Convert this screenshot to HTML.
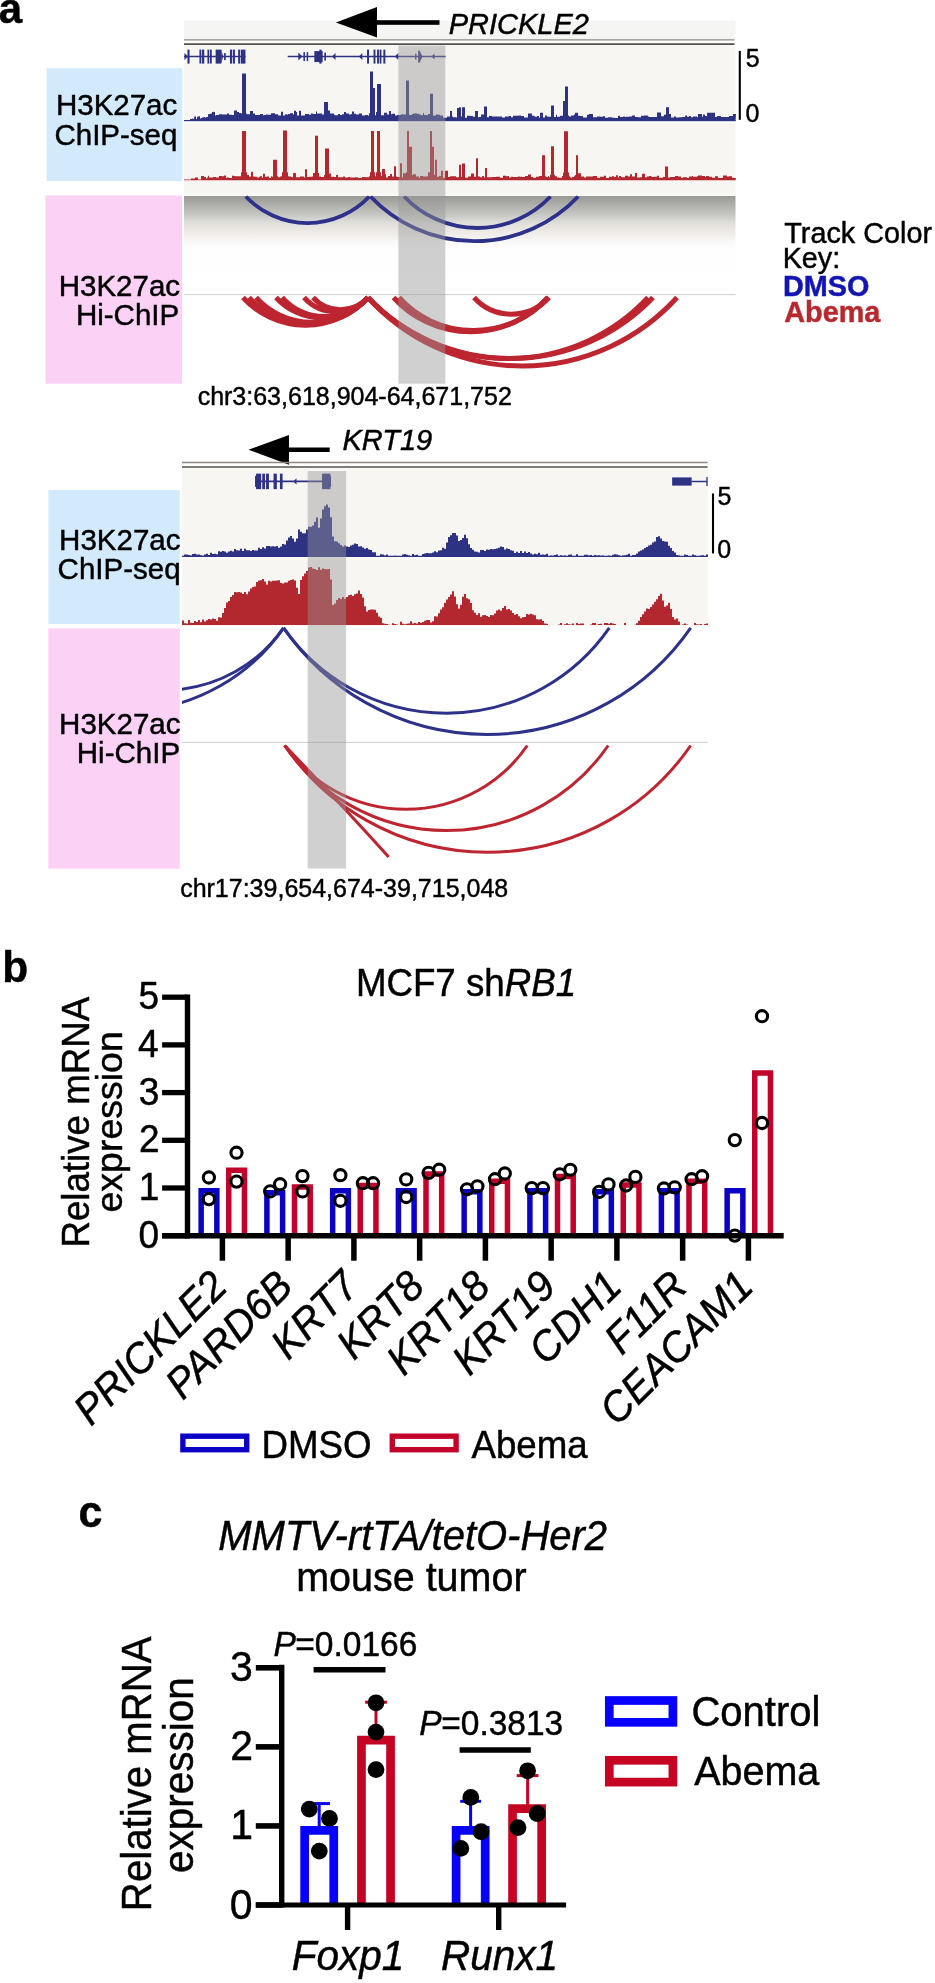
<!DOCTYPE html>
<html><head><meta charset="utf-8"><style>
html,body{margin:0;padding:0;background:#fff;}
svg{display:block;will-change:transform;}
svg text{font-family:"Liberation Sans", sans-serif;}
</style></head><body>
<svg width="935" height="1983" viewBox="0 0 935 1983" font-family="Liberation Sans, sans-serif">
<rect x="0" y="0" width="935" height="1983" fill="#fff"/>
<text transform="translate(-1.23 23.20) scale(1 1.000)" font-size="42.00" font-weight="bold" font-style="normal" fill="#000" stroke="#000" stroke-width="0.45">a</text>
<rect x="184.00" y="21.00" width="551.50" height="18.50" fill="#f5f5f4"/>
<polygon points="335.9,22.5 377,7.1 377,37.5" fill="#000"/>
<rect x="376.00" y="20.20" width="63.50" height="4.60" fill="#000"/>
<text transform="translate(448.71 33.60) scale(1 1.000)" font-size="29.00" font-weight="normal" font-style="italic" fill="#000" stroke="#000" stroke-width="0.45">PRICKLE2</text>
<rect x="184.00" y="45.20" width="551.50" height="150.30" fill="#f8f6f3"/>
<line x1="184.00" y1="39.80" x2="734.50" y2="39.80" stroke="#8d8782" stroke-width="1.30"/>
<line x1="184.00" y1="44.10" x2="734.50" y2="44.10" stroke="#55504c" stroke-width="1.70"/>
<line x1="184.00" y1="56.60" x2="245.50" y2="56.60" stroke="#2d3283" stroke-width="1.50"/>
<polygon points="188.0,56.6 184.5,53.1 184.5,60.1" fill="#2d3283"/>
<rect x="187.45" y="49.60" width="2.10" height="14.00" fill="#2d3283"/>
<rect x="199.45" y="49.60" width="1.90" height="14.00" fill="#2d3283"/>
<rect x="202.05" y="49.60" width="2.20" height="14.00" fill="#2d3283"/>
<rect x="207.45" y="49.60" width="1.70" height="14.00" fill="#2d3283"/>
<rect x="209.85" y="49.60" width="1.90" height="14.00" fill="#2d3283"/>
<rect x="229.95" y="49.60" width="2.20" height="14.00" fill="#2d3283"/>
<rect x="232.95" y="49.60" width="2.00" height="14.00" fill="#2d3283"/>
<rect x="238.15" y="49.60" width="2.00" height="14.00" fill="#2d3283"/>
<rect x="240.85" y="49.60" width="4.60" height="14.00" fill="#2d3283"/>
<rect x="215.65" y="49.60" width="5.80" height="14.00" fill="#2d3283"/>
<polygon points="221.3,50 223.2,56.6 221.3,63.2" fill="#2d3283"/>
<rect x="224.05" y="53.10" width="1.70" height="7.00" fill="#2d3283"/>
<line x1="287.70" y1="56.60" x2="445.60" y2="56.60" stroke="#2d3283" stroke-width="1.50"/>
<polygon points="302.3,56.6 298.3,52.6 298.3,60.6" fill="#2d3283"/>
<rect x="303.45" y="52.10" width="1.50" height="9.00" fill="#2d3283"/>
<rect x="306.65" y="52.10" width="1.50" height="9.00" fill="#2d3283"/>
<rect x="314.35" y="51.10" width="8.30" height="11.00" fill="#2d3283"/>
<rect x="319.35" y="49.60" width="2.30" height="14.00" fill="#2d3283"/>
<rect x="324.35" y="52.60" width="1.60" height="8.00" fill="#2d3283"/>
<polygon points="332.0,56.6 335.5,53.1 335.5,60.1" fill="#2d3283"/>
<polygon points="358.8,56.6 362.3,53.1 362.3,60.1" fill="#2d3283"/>
<rect x="367.05" y="49.60" width="2.00" height="14.00" fill="#2d3283"/>
<rect x="373.55" y="49.60" width="1.90" height="14.00" fill="#2d3283"/>
<rect x="377.05" y="49.60" width="1.90" height="14.00" fill="#2d3283"/>
<rect x="379.65" y="49.60" width="1.80" height="14.00" fill="#2d3283"/>
<rect x="383.35" y="49.60" width="2.00" height="14.00" fill="#2d3283"/>
<polygon points="394.8,56.6 398.3,53.1 398.3,60.1" fill="#2d3283"/>
<rect x="418.15" y="50.60" width="1.80" height="12.00" fill="#2d3283"/>
<polygon points="419.8,51 422.5,56.6 419.8,62.2" fill="#2d3283"/>
<rect x="415.15" y="53.60" width="1.30" height="6.00" fill="#2d3283"/>
<polygon points="431.5,56.6 434.5,53.6 434.5,59.6" fill="#2d3283"/>
<path d="M184.0 121.2L184.0 120.1L185.0 120.1L185.0 120.0L186.0 120.0L186.0 120.6L187.0 120.6L187.0 120.6L188.0 120.6L188.0 120.6L189.0 120.6L189.0 120.6L190.0 120.6L190.0 118.9L191.0 118.9L191.0 118.9L192.0 118.9L192.0 118.5L193.0 118.5L193.0 119.0L194.0 119.0L194.0 116.8L195.0 116.8L195.0 116.5L196.0 116.5L196.0 118.9L197.0 118.9L197.0 116.8L198.0 116.8L198.0 116.6L199.0 116.6L199.0 116.3L200.0 116.3L200.0 118.4L201.0 118.4L201.0 118.1L202.0 118.1L202.0 117.5L203.0 117.5L203.0 117.2L204.0 117.2L204.0 117.0L205.0 117.0L205.0 117.4L206.0 117.4L206.0 117.1L207.0 117.1L207.0 116.9L208.0 116.9L208.0 114.2L209.0 114.2L209.0 113.9L210.0 113.9L210.0 113.7L211.0 113.7L211.0 113.4L212.0 113.4L212.0 112.1L213.0 112.1L213.0 111.8L214.0 111.8L214.0 111.9L215.0 111.9L215.0 115.4L216.0 115.4L216.0 115.0L217.0 115.0L217.0 115.0L218.0 115.0L218.0 115.0L219.0 115.0L219.0 114.2L220.0 114.2L220.0 114.2L221.0 114.2L221.0 114.2L222.0 114.2L222.0 114.4L223.0 114.4L223.0 114.4L224.0 114.4L224.0 114.4L225.0 114.4L225.0 114.4L226.0 114.4L226.0 114.4L227.0 114.4L227.0 113.4L228.0 113.4L228.0 113.4L229.0 113.4L229.0 114.7L230.0 114.7L230.0 114.7L231.0 114.7L231.0 114.7L232.0 114.7L232.0 115.0L233.0 115.0L233.0 115.0L234.0 115.0L234.0 110.6L235.0 110.6L235.0 110.6L236.0 110.6L236.0 110.6L237.0 110.6L237.0 111.9L238.0 111.9L238.0 111.9L239.0 111.9L239.0 112.9L240.0 112.9L240.0 112.9L241.0 112.9L241.0 113.6L242.0 113.6L242.0 73.5L243.0 73.5L243.0 73.5L244.0 73.5L244.0 73.5L245.0 73.5L245.0 73.5L246.0 73.5L246.0 113.6L247.0 113.6L247.0 114.3L248.0 114.3L248.0 114.3L249.0 114.3L249.0 114.3L250.0 114.3L250.0 111.0L251.0 111.0L251.0 111.0L252.0 111.0L252.0 111.0L253.0 111.0L253.0 113.5L254.0 113.5L254.0 113.5L255.0 113.5L255.0 115.1L256.0 115.1L256.0 115.1L257.0 115.1L257.0 115.0L258.0 115.0L258.0 115.0L259.0 115.0L259.0 115.0L260.0 115.0L260.0 114.1L261.0 114.1L261.0 114.1L262.0 114.1L262.0 114.1L263.0 114.1L263.0 115.2L264.0 115.2L264.0 114.9L265.0 114.9L265.0 114.9L266.0 114.9L266.0 114.5L267.0 114.5L267.0 114.5L268.0 114.5L268.0 114.8L269.0 114.8L269.0 114.8L270.0 114.8L270.0 114.8L271.0 114.8L271.0 113.2L272.0 113.2L272.0 113.2L273.0 113.2L273.0 113.2L274.0 113.2L274.0 113.2L275.0 113.2L275.0 114.2L276.0 114.2L276.0 114.2L277.0 114.2L277.0 114.2L278.0 114.2L278.0 115.4L279.0 115.4L279.0 115.4L280.0 115.4L280.0 115.4L281.0 115.4L281.0 111.7L282.0 111.7L282.0 111.7L283.0 111.7L283.0 115.4L284.0 115.4L284.0 115.4L285.0 115.4L285.0 114.3L286.0 114.3L286.0 114.3L287.0 114.3L287.0 114.7L288.0 114.7L288.0 114.0L289.0 114.0L289.0 114.0L290.0 114.0L290.0 113.3L291.0 113.3L291.0 113.3L292.0 113.3L292.0 113.3L293.0 113.3L293.0 114.4L294.0 114.4L294.0 110.7L295.0 110.7L295.0 110.7L296.0 110.7L296.0 112.0L297.0 112.0L297.0 115.4L298.0 115.4L298.0 115.4L299.0 115.4L299.0 110.8L300.0 110.8L300.0 110.8L301.0 110.8L301.0 115.5L302.0 115.5L302.0 115.5L303.0 115.5L303.0 115.5L304.0 115.5L304.0 115.5L305.0 115.5L305.0 113.9L306.0 113.9L306.0 113.9L307.0 113.9L307.0 113.9L308.0 113.9L308.0 113.9L309.0 113.9L309.0 114.8L310.0 114.8L310.0 114.8L311.0 114.8L311.0 113.5L312.0 113.5L312.0 113.5L313.0 113.5L313.0 114.0L314.0 114.0L314.0 114.0L315.0 114.0L315.0 114.0L316.0 114.0L316.0 111.6L317.0 111.6L317.0 113.5L318.0 113.5L318.0 113.5L319.0 113.5L319.0 113.4L320.0 113.4L320.0 113.4L321.0 113.4L321.0 113.4L322.0 113.4L322.0 114.6L323.0 114.6L323.0 114.6L324.0 114.6L324.0 101.9L325.0 101.9L325.0 101.9L326.0 101.9L326.0 101.9L327.0 101.9L327.0 101.9L328.0 101.9L328.0 110.5L329.0 110.5L329.0 110.5L330.0 110.5L330.0 113.4L331.0 113.4L331.0 113.5L332.0 113.5L332.0 113.5L333.0 113.5L333.0 113.5L334.0 113.5L334.0 114.8L335.0 114.8L335.0 115.2L336.0 115.2L336.0 115.2L337.0 115.2L337.0 115.2L338.0 115.2L338.0 114.1L339.0 114.1L339.0 114.1L340.0 114.1L340.0 114.9L341.0 114.9L341.0 114.9L342.0 114.9L342.0 114.2L343.0 114.2L343.0 114.2L344.0 114.2L344.0 112.0L345.0 112.0L345.0 112.0L346.0 112.0L346.0 113.5L347.0 113.5L347.0 113.5L348.0 113.5L348.0 113.5L349.0 113.5L349.0 114.5L350.0 114.5L350.0 114.5L351.0 114.5L351.0 114.0L352.0 114.0L352.0 111.5L353.0 111.5L353.0 111.5L354.0 111.5L354.0 113.7L355.0 113.7L355.0 113.7L356.0 113.7L356.0 114.5L357.0 114.5L357.0 114.5L358.0 114.5L358.0 114.5L359.0 114.5L359.0 113.4L360.0 113.4L360.0 113.4L361.0 113.4L361.0 113.4L362.0 113.4L362.0 115.6L363.0 115.6L363.0 115.6L364.0 115.6L364.0 115.6L365.0 115.6L365.0 114.9L366.0 114.9L366.0 114.9L367.0 114.9L367.0 114.9L368.0 114.9L368.0 115.7L369.0 115.7L369.0 113.2L370.0 113.2L370.0 71.4L371.0 71.4L371.0 71.4L372.0 71.4L372.0 71.4L373.0 71.4L373.0 88.0L374.0 88.0L374.0 88.0L375.0 88.0L375.0 115.2L376.0 115.2L376.0 112.0L377.0 112.0L377.0 84.0L378.0 84.0L378.0 84.0L379.0 84.0L379.0 84.0L380.0 84.0L380.0 84.0L381.0 84.0L381.0 115.2L382.0 115.2L382.0 115.2L383.0 115.2L383.0 115.2L384.0 115.2L384.0 112.8L385.0 112.8L385.0 112.8L386.0 112.8L386.0 112.8L387.0 112.8L387.0 114.5L388.0 114.5L388.0 114.5L389.0 114.5L389.0 111.0L390.0 111.0L390.0 111.0L391.0 111.0L391.0 114.3L392.0 114.3L392.0 113.8L393.0 113.8L393.0 113.8L394.0 113.8L394.0 113.8L395.0 113.8L395.0 115.6L396.0 115.6L396.0 115.6L397.0 115.6L397.0 114.9L398.0 114.9L398.0 114.9L399.0 114.9L399.0 114.9L400.0 114.9L400.0 114.9L401.0 114.9L401.0 114.3L402.0 114.3L402.0 114.3L403.0 114.3L403.0 114.5L404.0 114.5L404.0 114.5L405.0 114.5L405.0 114.5L406.0 114.5L406.0 80.4L407.0 80.4L407.0 80.4L408.0 80.4L408.0 80.4L409.0 80.4L409.0 114.7L410.0 114.7L410.0 115.1L411.0 115.1L411.0 115.1L412.0 115.1L412.0 114.1L413.0 114.1L413.0 113.6L414.0 113.6L414.0 113.6L415.0 113.6L415.0 113.6L416.0 113.6L416.0 113.6L417.0 113.6L417.0 113.7L418.0 113.7L418.0 113.7L419.0 113.7L419.0 114.6L420.0 114.6L420.0 114.6L421.0 114.6L421.0 115.2L422.0 115.2L422.0 115.2L423.0 115.2L423.0 112.9L424.0 112.9L424.0 114.9L425.0 114.9L425.0 114.9L426.0 114.9L426.0 114.9L427.0 114.9L427.0 115.3L428.0 115.3L428.0 114.0L429.0 114.0L429.0 114.0L430.0 114.0L430.0 93.8L431.0 93.8L431.0 93.8L432.0 93.8L432.0 93.8L433.0 93.8L433.0 115.5L434.0 115.5L434.0 115.5L435.0 115.5L435.0 115.5L436.0 115.5L436.0 114.6L437.0 114.6L437.0 114.6L438.0 114.6L438.0 114.7L439.0 114.7L439.0 114.7L440.0 114.7L440.0 115.6L441.0 115.6L441.0 115.6L442.0 115.6L442.0 115.6L443.0 115.6L443.0 117.7L444.0 117.7L444.0 117.7L445.0 117.7L445.0 117.7L446.0 117.7L446.0 117.7L447.0 117.7L447.0 116.6L448.0 116.6L448.0 116.6L449.0 116.6L449.0 116.6L450.0 116.6L450.0 111.0L451.0 111.0L451.0 111.0L452.0 111.0L452.0 116.4L453.0 116.4L453.0 117.3L454.0 117.3L454.0 117.3L455.0 117.3L455.0 117.3L456.0 117.3L456.0 117.4L457.0 117.4L457.0 108.0L458.0 108.0L458.0 108.0L459.0 108.0L459.0 107.3L460.0 107.3L460.0 107.3L461.0 107.3L461.0 116.6L462.0 116.6L462.0 107.3L463.0 107.3L463.0 107.3L464.0 107.3L464.0 107.3L465.0 107.3L465.0 117.8L466.0 117.8L466.0 117.8L467.0 117.8L467.0 115.7L468.0 115.7L468.0 115.7L469.0 115.7L469.0 115.7L470.0 115.7L470.0 116.0L471.0 116.0L471.0 116.0L472.0 116.0L472.0 116.0L473.0 116.0L473.0 116.8L474.0 116.8L474.0 116.8L475.0 116.8L475.0 111.0L476.0 111.0L476.0 111.0L477.0 111.0L477.0 111.0L478.0 111.0L478.0 117.3L479.0 117.3L479.0 117.1L480.0 117.1L480.0 117.1L481.0 117.1L481.0 114.5L482.0 114.5L482.0 114.5L483.0 114.5L483.0 114.5L484.0 114.5L484.0 106.5L485.0 106.5L485.0 106.5L486.0 106.5L486.0 106.5L487.0 106.5L487.0 117.3L488.0 117.3L488.0 117.3L489.0 117.3L489.0 116.1L490.0 116.1L490.0 116.1L491.0 116.1L491.0 116.1L492.0 116.1L492.0 116.4L493.0 116.4L493.0 116.4L494.0 116.4L494.0 116.4L495.0 116.4L495.0 116.6L496.0 116.6L496.0 116.6L497.0 116.6L497.0 116.6L498.0 116.6L498.0 116.6L499.0 116.6L499.0 116.4L500.0 116.4L500.0 116.4L501.0 116.4L501.0 116.4L502.0 116.4L502.0 117.5L503.0 117.5L503.0 117.5L504.0 117.5L504.0 117.5L505.0 117.5L505.0 116.6L506.0 116.6L506.0 116.6L507.0 116.6L507.0 116.6L508.0 116.6L508.0 116.6L509.0 116.6L509.0 115.9L510.0 115.9L510.0 115.9L511.0 115.9L511.0 117.3L512.0 117.3L512.0 117.3L513.0 117.3L513.0 115.7L514.0 115.7L514.0 115.7L515.0 115.7L515.0 115.8L516.0 115.8L516.0 115.8L517.0 115.8L517.0 115.8L518.0 115.8L518.0 115.8L519.0 115.8L519.0 115.5L520.0 115.5L520.0 115.5L521.0 115.5L521.0 115.9L522.0 115.9L522.0 115.9L523.0 115.9L523.0 115.9L524.0 115.9L524.0 117.6L525.0 117.6L525.0 117.6L526.0 117.6L526.0 117.6L527.0 117.6L527.0 117.6L528.0 117.6L528.0 113.6L529.0 113.6L529.0 113.6L530.0 113.6L530.0 113.6L531.0 113.6L531.0 113.6L532.0 113.6L532.0 115.7L533.0 115.7L533.0 115.7L534.0 115.7L534.0 116.2L535.0 116.2L535.0 116.7L536.0 116.7L536.0 116.7L537.0 116.7L537.0 116.0L538.0 116.0L538.0 116.0L539.0 116.0L539.0 117.8L540.0 117.8L540.0 112.7L541.0 112.7L541.0 112.7L542.0 112.7L542.0 112.7L543.0 112.7L543.0 117.5L544.0 117.5L544.0 117.5L545.0 117.5L545.0 115.5L546.0 115.5L546.0 115.5L547.0 115.5L547.0 116.5L548.0 116.5L548.0 116.8L549.0 116.8L549.0 116.8L550.0 116.8L550.0 116.8L551.0 116.8L551.0 105.5L552.0 105.5L552.0 105.5L553.0 105.5L553.0 105.5L554.0 105.5L554.0 116.9L555.0 116.9L555.0 116.9L556.0 116.9L556.0 114.7L557.0 114.7L557.0 116.8L558.0 116.8L558.0 116.8L559.0 116.8L559.0 116.8L560.0 116.8L560.0 115.7L561.0 115.7L561.0 115.7L562.0 115.7L562.0 115.7L563.0 115.7L563.0 101.0L564.0 101.0L564.0 101.0L565.0 101.0L565.0 86.5L566.0 86.5L566.0 86.5L567.0 86.5L567.0 86.5L568.0 86.5L568.0 115.6L569.0 115.6L569.0 116.5L570.0 116.5L570.0 116.5L571.0 116.5L571.0 115.5L572.0 115.5L572.0 115.5L573.0 115.5L573.0 115.5L574.0 115.5L574.0 114.4L575.0 114.4L575.0 112.7L576.0 112.7L576.0 112.7L577.0 112.7L577.0 112.7L578.0 112.7L578.0 115.8L579.0 115.8L579.0 115.8L580.0 115.8L580.0 116.1L581.0 116.1L581.0 116.1L582.0 116.1L582.0 116.1L583.0 116.1L583.0 117.5L584.0 117.5L584.0 117.5L585.0 117.5L585.0 117.5L586.0 117.5L586.0 117.5L587.0 117.5L587.0 114.8L588.0 114.8L588.0 114.8L589.0 114.8L589.0 113.9L590.0 113.9L590.0 113.9L591.0 113.9L591.0 113.9L592.0 113.9L592.0 113.9L593.0 113.9L593.0 117.2L594.0 117.2L594.0 117.2L595.0 117.2L595.0 117.2L596.0 117.2L596.0 117.2L597.0 117.2L597.0 116.5L598.0 116.5L598.0 116.5L599.0 116.5L599.0 116.5L600.0 116.5L600.0 116.7L601.0 116.7L601.0 116.7L602.0 116.7L602.0 116.7L603.0 116.7L603.0 116.2L604.0 116.2L604.0 116.2L605.0 116.2L605.0 117.8L606.0 117.8L606.0 117.8L607.0 117.8L607.0 117.8L608.0 117.8L608.0 117.3L609.0 117.3L609.0 117.3L610.0 117.3L610.0 117.3L611.0 117.3L611.0 117.3L612.0 117.3L612.0 117.8L613.0 117.8L613.0 117.8L614.0 117.8L614.0 117.8L615.0 117.8L615.0 117.9L616.0 117.9L616.0 117.9L617.0 117.9L617.0 117.9L618.0 117.9L618.0 115.7L619.0 115.7L619.0 115.7L620.0 115.7L620.0 116.9L621.0 116.9L621.0 116.9L622.0 116.9L622.0 116.9L623.0 116.9L623.0 116.4L624.0 116.4L624.0 116.6L625.0 116.6L625.0 117.0L626.0 117.0L626.0 116.8L627.0 116.8L627.0 116.8L628.0 116.8L628.0 116.8L629.0 116.8L629.0 116.6L630.0 116.6L630.0 116.6L631.0 116.6L631.0 116.6L632.0 116.6L632.0 115.6L633.0 115.6L633.0 115.6L634.0 115.6L634.0 115.6L635.0 115.6L635.0 116.9L636.0 116.9L636.0 116.9L637.0 116.9L637.0 116.9L638.0 116.9L638.0 117.2L639.0 117.2L639.0 117.2L640.0 117.2L640.0 117.2L641.0 117.2L641.0 115.7L642.0 115.7L642.0 115.7L643.0 115.7L643.0 115.7L644.0 115.7L644.0 115.5L645.0 115.5L645.0 115.5L646.0 115.5L646.0 115.5L647.0 115.5L647.0 115.5L648.0 115.5L648.0 116.4L649.0 116.4L649.0 117.0L650.0 117.0L650.0 117.0L651.0 117.0L651.0 117.0L652.0 117.0L652.0 117.0L653.0 117.0L653.0 116.9L654.0 116.9L654.0 116.9L655.0 116.9L655.0 116.9L656.0 116.9L656.0 116.9L657.0 116.9L657.0 112.5L658.0 112.5L658.0 112.5L659.0 112.5L659.0 112.5L660.0 112.5L660.0 112.5L661.0 112.5L661.0 116.2L662.0 116.2L662.0 116.2L663.0 116.2L663.0 116.2L664.0 116.2L664.0 114.8L665.0 114.8L665.0 114.8L666.0 114.8L666.0 107.3L667.0 107.3L667.0 107.3L668.0 107.3L668.0 107.3L669.0 107.3L669.0 113.9L670.0 113.9L670.0 113.9L671.0 113.9L671.0 117.6L672.0 117.6L672.0 117.6L673.0 117.6L673.0 117.6L674.0 117.6L674.0 116.6L675.0 116.6L675.0 116.6L676.0 116.6L676.0 117.6L677.0 117.6L677.0 117.6L678.0 117.6L678.0 117.6L679.0 117.6L679.0 117.3L680.0 117.3L680.0 117.3L681.0 117.3L681.0 117.3L682.0 117.3L682.0 117.0L683.0 117.0L683.0 117.0L684.0 117.0L684.0 117.0L685.0 117.0L685.0 115.6L686.0 115.6L686.0 115.6L687.0 115.6L687.0 116.7L688.0 116.7L688.0 116.7L689.0 116.7L689.0 116.0L690.0 116.0L690.0 116.0L691.0 116.0L691.0 117.2L692.0 117.2L692.0 117.2L693.0 117.2L693.0 116.5L694.0 116.5L694.0 116.5L695.0 116.5L695.0 116.5L696.0 116.5L696.0 116.5L697.0 116.5L697.0 117.2L698.0 117.2L698.0 114.0L699.0 114.0L699.0 114.0L700.0 114.0L700.0 114.0L701.0 114.0L701.0 114.0L702.0 114.0L702.0 116.7L703.0 116.7L703.0 114.5L704.0 114.5L704.0 114.5L705.0 114.5L705.0 116.0L706.0 116.0L706.0 116.0L707.0 116.0L707.0 112.7L708.0 112.7L708.0 112.7L709.0 112.7L709.0 112.7L710.0 112.7L710.0 112.7L711.0 112.7L711.0 112.7L712.0 112.7L712.0 112.7L713.0 112.7L713.0 112.7L714.0 112.7L714.0 112.7L715.0 112.7L715.0 117.1L716.0 117.1L716.0 117.1L717.0 117.1L717.0 116.0L718.0 116.0L718.0 115.9L719.0 115.9L719.0 115.9L720.0 115.9L720.0 115.9L721.0 115.9L721.0 116.9L722.0 116.9L722.0 116.9L723.0 116.9L723.0 116.9L724.0 116.9L724.0 117.0L725.0 117.0L725.0 117.0L726.0 117.0L726.0 117.1L727.0 117.1L727.0 117.1L728.0 117.1L728.0 117.1L729.0 117.1L729.0 115.9L730.0 115.9L730.0 115.9L731.0 115.9L731.0 115.9L732.0 115.9L732.0 115.9L733.0 115.9L733.0 113.9L734.0 113.9L734.0 113.9L735.0 113.9L735.0 113.9L736.0 113.9L735.5 121.2Z" fill="#2d3283"/>
<line x1="184.00" y1="120.60" x2="735.50" y2="120.60" stroke="#2d3283" stroke-width="1.40"/>
<rect x="184.00" y="121.40" width="551.50" height="1.60" fill="#fdfdfd"/>
<path d="M184.0 180.2L184.0 179.6L185.0 179.6L185.0 179.5L186.0 179.5L186.0 179.5L187.0 179.5L187.0 179.5L188.0 179.5L188.0 179.6L189.0 179.6L189.0 179.6L190.0 179.6L190.0 179.6L191.0 179.6L191.0 178.4L192.0 178.4L192.0 178.4L193.0 178.4L193.0 178.4L194.0 178.4L194.0 178.4L195.0 178.4L195.0 177.5L196.0 177.5L196.0 177.5L197.0 177.5L197.0 177.5L198.0 177.5L198.0 179.6L199.0 179.6L199.0 179.6L200.0 179.6L200.0 179.5L201.0 179.5L201.0 176.0L202.0 176.0L202.0 176.0L203.0 176.0L203.0 176.0L204.0 176.0L204.0 177.0L205.0 177.0L205.0 176.9L206.0 176.9L206.0 178.4L207.0 178.4L207.0 177.5L208.0 177.5L208.0 175.8L209.0 175.8L209.0 177.5L210.0 177.5L210.0 177.4L211.0 177.4L211.0 177.6L212.0 177.6L212.0 177.4L213.0 177.4L213.0 177.0L214.0 177.0L214.0 177.0L215.0 177.0L215.0 177.0L216.0 177.0L216.0 177.5L217.0 177.5L217.0 177.5L218.0 177.5L218.0 177.5L219.0 177.5L219.0 176.0L220.0 176.0L220.0 176.0L221.0 176.0L221.0 176.0L222.0 176.0L222.0 176.3L223.0 176.3L223.0 176.3L224.0 176.3L224.0 175.5L225.0 175.5L225.0 175.5L226.0 175.5L226.0 178.0L227.0 178.0L227.0 177.6L228.0 177.6L228.0 177.6L229.0 177.6L229.0 177.9L230.0 177.9L230.0 177.9L231.0 177.9L231.0 177.9L232.0 177.9L232.0 175.8L233.0 175.8L233.0 175.8L234.0 175.8L234.0 176.0L235.0 176.0L235.0 176.2L236.0 176.2L236.0 176.2L237.0 176.2L237.0 176.2L238.0 176.2L238.0 176.2L239.0 176.2L239.0 176.3L240.0 176.3L240.0 176.3L241.0 176.3L241.0 172.3L242.0 172.3L242.0 131.0L243.0 131.0L243.0 131.0L244.0 131.0L244.0 131.0L245.0 131.0L245.0 131.0L246.0 131.0L246.0 172.3L247.0 172.3L247.0 174.9L248.0 174.9L248.0 174.9L249.0 174.9L249.0 176.6L250.0 176.6L250.0 176.6L251.0 176.6L251.0 171.7L252.0 171.7L252.0 171.7L253.0 171.7L253.0 176.4L254.0 176.4L254.0 176.5L255.0 176.5L255.0 176.8L256.0 176.8L256.0 176.8L257.0 176.8L257.0 177.5L258.0 177.5L258.0 177.5L259.0 177.5L259.0 176.8L260.0 176.8L260.0 176.3L261.0 176.3L261.0 176.3L262.0 176.3L262.0 177.8L263.0 177.8L263.0 173.8L264.0 173.8L264.0 173.8L265.0 173.8L265.0 176.7L266.0 176.7L266.0 176.7L267.0 176.7L267.0 176.6L268.0 176.6L268.0 176.6L269.0 176.6L269.0 178.0L270.0 178.0L270.0 178.0L271.0 178.0L271.0 176.2L272.0 176.2L272.0 176.8L273.0 176.8L273.0 159.7L274.0 159.7L274.0 159.7L275.0 159.7L275.0 159.7L276.0 159.7L276.0 159.7L277.0 159.7L277.0 176.3L278.0 176.3L278.0 177.3L279.0 177.3L279.0 177.3L280.0 177.3L280.0 176.5L281.0 176.5L281.0 176.2L282.0 176.2L282.0 172.2L283.0 172.2L283.0 130.5L284.0 130.5L284.0 130.5L285.0 130.5L285.0 130.5L286.0 130.5L286.0 130.5L287.0 130.5L287.0 172.2L288.0 172.2L288.0 176.2L289.0 176.2L289.0 176.5L290.0 176.5L290.0 176.5L291.0 176.5L291.0 177.1L292.0 177.1L292.0 177.3L293.0 177.3L293.0 173.0L294.0 173.0L294.0 173.0L295.0 173.0L295.0 173.0L296.0 173.0L296.0 177.3L297.0 177.3L297.0 177.3L298.0 177.3L298.0 177.3L299.0 177.3L299.0 177.3L300.0 177.3L300.0 176.5L301.0 176.5L301.0 176.5L302.0 176.5L302.0 176.5L303.0 176.5L303.0 176.5L304.0 176.5L304.0 177.6L305.0 177.6L305.0 169.3L306.0 169.3L306.0 169.3L307.0 169.3L307.0 177.0L308.0 177.0L308.0 177.0L309.0 177.0L309.0 176.7L310.0 176.7L310.0 176.7L311.0 176.7L311.0 176.7L312.0 176.7L312.0 176.6L313.0 176.6L313.0 173.1L314.0 173.1L314.0 173.1L315.0 173.1L315.0 135.8L316.0 135.8L316.0 135.8L317.0 135.8L317.0 135.8L318.0 135.8L318.0 173.1L319.0 173.1L319.0 176.6L320.0 176.6L320.0 176.6L321.0 176.6L321.0 176.9L322.0 176.9L322.0 176.9L323.0 176.9L323.0 176.9L324.0 176.9L324.0 175.1L325.0 175.1L325.0 148.6L326.0 148.6L326.0 148.6L327.0 148.6L327.0 148.6L328.0 148.6L328.0 148.6L329.0 148.6L329.0 173.6L330.0 173.6L330.0 173.6L331.0 173.6L331.0 176.8L332.0 176.8L332.0 176.8L333.0 176.8L333.0 176.8L334.0 176.8L334.0 176.9L335.0 176.9L335.0 176.9L336.0 176.9L336.0 175.0L337.0 175.0L337.0 175.0L338.0 175.0L338.0 177.3L339.0 177.3L339.0 177.3L340.0 177.3L340.0 177.3L341.0 177.3L341.0 177.3L342.0 177.3L342.0 177.3L343.0 177.3L343.0 176.6L344.0 176.6L344.0 176.6L345.0 176.6L345.0 177.5L346.0 177.5L346.0 177.5L347.0 177.5L347.0 177.5L348.0 177.5L348.0 176.9L349.0 176.9L349.0 176.9L350.0 176.9L350.0 177.4L351.0 177.4L351.0 177.4L352.0 177.4L352.0 177.4L353.0 177.4L353.0 177.4L354.0 177.4L354.0 177.4L355.0 177.4L355.0 177.3L356.0 177.3L356.0 177.3L357.0 177.3L357.0 177.3L358.0 177.3L358.0 177.9L359.0 177.9L359.0 177.9L360.0 177.9L360.0 177.9L361.0 177.9L361.0 177.9L362.0 177.9L362.0 177.1L363.0 177.1L363.0 177.1L364.0 177.1L364.0 177.1L365.0 177.1L365.0 177.3L366.0 177.3L366.0 177.3L367.0 177.3L367.0 177.2L368.0 177.2L368.0 177.2L369.0 177.2L369.0 176.3L370.0 176.3L370.0 172.3L371.0 172.3L371.0 131.0L372.0 131.0L372.0 131.0L373.0 131.0L373.0 131.0L374.0 131.0L374.0 172.3L375.0 172.3L375.0 176.2L376.0 176.2L376.0 172.3L377.0 172.3L377.0 131.0L378.0 131.0L378.0 131.0L379.0 131.0L379.0 131.0L380.0 131.0L380.0 172.3L381.0 172.3L381.0 176.0L382.0 176.0L382.0 169.0L383.0 169.0L383.0 169.0L384.0 169.0L384.0 169.0L385.0 169.0L385.0 174.1L386.0 174.1L386.0 177.6L387.0 177.6L387.0 177.6L388.0 177.6L388.0 176.0L389.0 176.0L389.0 176.0L390.0 176.0L390.0 173.9L391.0 173.9L391.0 173.9L392.0 173.9L392.0 176.5L393.0 176.5L393.0 176.5L394.0 176.5L394.0 166.3L395.0 166.3L395.0 166.3L396.0 166.3L396.0 176.4L397.0 176.4L397.0 176.9L398.0 176.9L398.0 176.9L399.0 176.9L399.0 176.9L400.0 176.9L400.0 163.3L401.0 163.3L401.0 163.3L402.0 163.3L402.0 177.2L403.0 177.2L403.0 173.3L404.0 173.3L404.0 173.3L405.0 173.3L405.0 173.3L406.0 173.3L406.0 172.3L407.0 172.3L407.0 131.0L408.0 131.0L408.0 131.0L409.0 131.0L409.0 146.8L410.0 146.8L410.0 146.8L411.0 146.8L411.0 146.8L412.0 146.8L412.0 174.9L413.0 174.9L413.0 174.3L414.0 174.3L414.0 174.3L415.0 174.3L415.0 174.3L416.0 174.3L416.0 176.6L417.0 176.6L417.0 176.6L418.0 176.6L418.0 176.2L419.0 176.2L419.0 177.8L420.0 177.8L420.0 176.0L421.0 176.0L421.0 176.0L422.0 176.0L422.0 176.0L423.0 176.0L423.0 176.4L424.0 176.4L424.0 176.4L425.0 176.4L425.0 176.4L426.0 176.4L426.0 176.4L427.0 176.4L427.0 176.3L428.0 176.3L428.0 172.3L429.0 172.3L429.0 172.3L430.0 172.3L430.0 131.0L431.0 131.0L431.0 131.0L432.0 131.0L432.0 146.8L433.0 146.8L433.0 146.8L434.0 146.8L434.0 174.9L435.0 174.9L435.0 159.7L436.0 159.7L436.0 159.7L437.0 159.7L437.0 176.7L438.0 176.7L438.0 176.7L439.0 176.7L439.0 175.9L440.0 175.9L440.0 175.9L441.0 175.9L441.0 170.8L442.0 170.8L442.0 170.8L443.0 170.8L443.0 177.7L444.0 177.7L444.0 177.7L445.0 177.7L445.0 170.8L446.0 170.8L446.0 170.8L447.0 170.8L447.0 170.8L448.0 170.8L448.0 177.0L449.0 177.0L449.0 177.0L450.0 177.0L450.0 176.3L451.0 176.3L451.0 176.3L452.0 176.3L452.0 176.3L453.0 176.3L453.0 176.3L454.0 176.3L454.0 176.3L455.0 176.3L455.0 176.3L456.0 176.3L456.0 177.2L457.0 177.2L457.0 177.2L458.0 177.2L458.0 177.2L459.0 177.2L459.0 164.7L460.0 164.7L460.0 164.7L461.0 164.7L461.0 176.8L462.0 176.8L462.0 163.6L463.0 163.6L463.0 163.6L464.0 163.6L464.0 163.6L465.0 163.6L465.0 177.5L466.0 177.5L466.0 177.7L467.0 177.7L467.0 177.7L468.0 177.7L468.0 176.4L469.0 176.4L469.0 176.4L470.0 176.4L470.0 176.4L471.0 176.4L471.0 173.6L472.0 173.6L472.0 173.6L473.0 173.6L473.0 173.6L474.0 173.6L474.0 176.7L475.0 176.7L475.0 176.7L476.0 176.7L476.0 158.2L477.0 158.2L477.0 158.2L478.0 158.2L478.0 176.6L479.0 176.6L479.0 176.6L480.0 176.6L480.0 177.3L481.0 177.3L481.0 177.3L482.0 177.3L482.0 175.9L483.0 175.9L483.0 175.9L484.0 175.9L484.0 177.6L485.0 177.6L485.0 168.0L486.0 168.0L486.0 168.0L487.0 168.0L487.0 177.2L488.0 177.2L488.0 177.2L489.0 177.2L489.0 177.2L490.0 177.2L490.0 177.3L491.0 177.3L491.0 177.3L492.0 177.3L492.0 177.1L493.0 177.1L493.0 177.1L494.0 177.1L494.0 177.1L495.0 177.1L495.0 177.1L496.0 177.1L496.0 176.8L497.0 176.8L497.0 176.8L498.0 176.8L498.0 176.8L499.0 176.8L499.0 176.8L500.0 176.8L500.0 177.8L501.0 177.8L501.0 177.8L502.0 177.8L502.0 177.8L503.0 177.8L503.0 175.8L504.0 175.8L504.0 175.8L505.0 175.8L505.0 175.8L506.0 175.8L506.0 176.3L507.0 176.3L507.0 176.3L508.0 176.3L508.0 176.1L509.0 176.1L509.0 177.4L510.0 177.4L510.0 177.4L511.0 177.4L511.0 176.7L512.0 176.7L512.0 176.7L513.0 176.7L513.0 177.0L514.0 177.0L514.0 177.0L515.0 177.0L515.0 177.0L516.0 177.0L516.0 177.0L517.0 177.0L517.0 177.0L518.0 177.0L518.0 176.4L519.0 176.4L519.0 176.4L520.0 176.4L520.0 176.7L521.0 176.7L521.0 176.7L522.0 176.7L522.0 176.9L523.0 176.9L523.0 176.9L524.0 176.9L524.0 176.9L525.0 176.9L525.0 176.1L526.0 176.1L526.0 176.1L527.0 176.1L527.0 176.1L528.0 176.1L528.0 174.5L529.0 174.5L529.0 174.5L530.0 174.5L530.0 174.5L531.0 174.5L531.0 177.1L532.0 177.1L532.0 177.1L533.0 177.1L533.0 177.7L534.0 177.7L534.0 177.7L535.0 177.7L535.0 177.7L536.0 177.7L536.0 176.7L537.0 176.7L537.0 176.7L538.0 176.7L538.0 176.7L539.0 176.7L539.0 175.9L540.0 175.9L540.0 175.9L541.0 175.9L541.0 175.9L542.0 175.9L542.0 155.3L543.0 155.3L543.0 155.3L544.0 155.3L544.0 155.3L545.0 155.3L545.0 176.2L546.0 176.2L546.0 176.9L547.0 176.9L547.0 176.9L548.0 176.9L548.0 175.9L549.0 175.9L549.0 177.2L550.0 177.2L550.0 174.8L551.0 174.8L551.0 146.2L552.0 146.2L552.0 146.2L553.0 146.2L553.0 146.2L554.0 146.2L554.0 174.8L555.0 174.8L555.0 176.3L556.0 176.3L556.0 176.3L557.0 176.3L557.0 177.4L558.0 177.4L558.0 177.4L559.0 177.4L559.0 177.8L560.0 177.8L560.0 177.8L561.0 177.8L561.0 177.8L562.0 177.8L562.0 175.9L563.0 175.9L563.0 172.4L564.0 172.4L564.0 131.3L565.0 131.3L565.0 131.3L566.0 131.3L566.0 131.3L567.0 131.3L567.0 131.3L568.0 131.3L568.0 172.4L569.0 172.4L569.0 176.3L570.0 176.3L570.0 177.2L571.0 177.2L571.0 177.8L572.0 177.8L572.0 177.0L573.0 177.0L573.0 177.0L574.0 177.0L574.0 176.2L575.0 176.2L575.0 175.0L576.0 175.0L576.0 155.3L577.0 155.3L577.0 155.3L578.0 155.3L578.0 173.3L579.0 173.3L579.0 173.3L580.0 173.3L580.0 173.3L581.0 173.3L581.0 176.5L582.0 176.5L582.0 176.5L583.0 176.5L583.0 176.5L584.0 176.5L584.0 177.5L585.0 177.5L585.0 177.5L586.0 177.5L586.0 176.4L587.0 176.4L587.0 176.4L588.0 176.4L588.0 176.4L589.0 176.4L589.0 176.5L590.0 176.5L590.0 176.5L591.0 176.5L591.0 176.5L592.0 176.5L592.0 176.5L593.0 176.5L593.0 175.9L594.0 175.9L594.0 175.9L595.0 175.9L595.0 175.9L596.0 175.9L596.0 175.9L597.0 175.9L597.0 177.8L598.0 177.8L598.0 177.8L599.0 177.8L599.0 177.7L600.0 177.7L600.0 176.7L601.0 176.7L601.0 176.8L602.0 176.8L602.0 176.8L603.0 176.8L603.0 176.8L604.0 176.8L604.0 175.8L605.0 175.8L605.0 175.8L606.0 175.8L606.0 178.0L607.0 178.0L607.0 178.0L608.0 178.0L608.0 178.0L609.0 178.0L609.0 176.7L610.0 176.7L610.0 176.7L611.0 176.7L611.0 176.7L612.0 176.7L612.0 176.2L613.0 176.2L613.0 176.2L614.0 176.2L614.0 177.0L615.0 177.0L615.0 177.0L616.0 177.0L616.0 175.3L617.0 175.3L617.0 175.3L618.0 175.3L618.0 177.4L619.0 177.4L619.0 176.0L620.0 176.0L620.0 176.0L621.0 176.0L621.0 177.1L622.0 177.1L622.0 177.3L623.0 177.3L623.0 177.3L624.0 177.3L624.0 177.3L625.0 177.3L625.0 175.8L626.0 175.8L626.0 175.8L627.0 175.8L627.0 175.8L628.0 175.8L628.0 176.6L629.0 176.6L629.0 176.6L630.0 176.6L630.0 174.2L631.0 174.2L631.0 174.2L632.0 174.2L632.0 176.5L633.0 176.5L633.0 176.5L634.0 176.5L634.0 176.5L635.0 176.5L635.0 173.1L636.0 173.1L636.0 173.1L637.0 173.1L637.0 177.6L638.0 177.6L638.0 177.6L639.0 177.6L639.0 177.6L640.0 177.6L640.0 177.3L641.0 177.3L641.0 177.3L642.0 177.3L642.0 173.8L643.0 173.8L643.0 173.8L644.0 173.8L644.0 173.8L645.0 173.8L645.0 177.3L646.0 177.3L646.0 177.3L647.0 177.3L647.0 176.5L648.0 176.5L648.0 176.5L649.0 176.5L649.0 176.1L650.0 176.1L650.0 176.1L651.0 176.1L651.0 176.5L652.0 176.5L652.0 176.9L653.0 176.9L653.0 176.9L654.0 176.9L654.0 176.8L655.0 176.8L655.0 176.8L656.0 176.8L656.0 176.8L657.0 176.8L657.0 175.8L658.0 175.8L658.0 175.8L659.0 175.8L659.0 177.7L660.0 177.7L660.0 177.7L661.0 177.7L661.0 177.7L662.0 177.7L662.0 177.7L663.0 177.7L663.0 177.0L664.0 177.0L664.0 177.0L665.0 177.0L665.0 166.5L666.0 166.5L666.0 166.5L667.0 166.5L667.0 166.5L668.0 166.5L668.0 177.6L669.0 177.6L669.0 177.6L670.0 177.6L670.0 177.0L671.0 177.0L671.0 177.0L672.0 177.0L672.0 176.9L673.0 176.9L673.0 176.9L674.0 176.9L674.0 176.9L675.0 176.9L675.0 176.0L676.0 176.0L676.0 176.0L677.0 176.0L677.0 176.0L678.0 176.0L678.0 176.6L679.0 176.6L679.0 176.6L680.0 176.6L680.0 176.6L681.0 176.6L681.0 177.8L682.0 177.8L682.0 177.8L683.0 177.8L683.0 177.3L684.0 177.3L684.0 177.3L685.0 177.3L685.0 177.3L686.0 177.3L686.0 177.3L687.0 177.3L687.0 177.9L688.0 177.9L688.0 177.9L689.0 177.9L689.0 176.4L690.0 176.4L690.0 176.4L691.0 176.4L691.0 176.4L692.0 176.4L692.0 176.1L693.0 176.1L693.0 176.8L694.0 176.8L694.0 176.8L695.0 176.8L695.0 176.8L696.0 176.8L696.0 176.8L697.0 176.8L697.0 176.3L698.0 176.3L698.0 175.5L699.0 175.5L699.0 175.5L700.0 175.5L700.0 175.5L701.0 175.5L701.0 175.5L702.0 175.5L702.0 176.1L703.0 176.1L703.0 176.1L704.0 176.1L704.0 176.1L705.0 176.1L705.0 177.1L706.0 177.1L706.0 176.1L707.0 176.1L707.0 176.1L708.0 176.1L708.0 176.1L709.0 176.1L709.0 176.7L710.0 176.7L710.0 176.7L711.0 176.7L711.0 176.7L712.0 176.7L712.0 177.7L713.0 177.7L713.0 177.7L714.0 177.7L714.0 177.7L715.0 177.7L715.0 176.3L716.0 176.3L716.0 176.3L717.0 176.3L717.0 176.3L718.0 176.3L718.0 177.9L719.0 177.9L719.0 177.9L720.0 177.9L720.0 177.9L721.0 177.9L721.0 177.9L722.0 177.9L722.0 177.7L723.0 177.7L723.0 175.5L724.0 175.5L724.0 175.5L725.0 175.5L725.0 175.5L726.0 175.5L726.0 175.5L727.0 175.5L727.0 176.6L728.0 176.6L728.0 176.6L729.0 176.6L729.0 176.2L730.0 176.2L730.0 176.2L731.0 176.2L731.0 176.2L732.0 176.2L732.0 177.8L733.0 177.8L733.0 177.8L734.0 177.8L734.0 177.9L735.0 177.9L735.0 177.9L736.0 177.9L735.5 180.2Z" fill="#b3272e"/>
<defs><linearGradient id="g1" gradientUnits="userSpaceOnUse" x1="0" y1="196" x2="0" y2="294"><stop offset="0.0000" stop-color="#999a95"/><stop offset="0.0612" stop-color="#a7a8a3"/><stop offset="0.1224" stop-color="#b6b7b2"/><stop offset="0.2010" stop-color="#c9cac5"/><stop offset="0.2653" stop-color="#dcddd8"/><stop offset="0.3102" stop-color="#e6e3df"/><stop offset="0.3755" stop-color="#eeebe8"/><stop offset="0.4276" stop-color="#f5f3f0"/><stop offset="0.4755" stop-color="#fafafa"/><stop offset="0.5510" stop-color="#fefefe"/><stop offset="1.0000" stop-color="#ffffff"/></linearGradient><clipPath id="c1"><rect x="184" y="195.5" width="551.5" height="188.5"/></clipPath><clipPath id="c2"><rect x="182" y="626" width="526" height="243"/></clipPath></defs>
<rect x="184.00" y="195.50" width="551.50" height="99.00" fill="url(#g1)"/>
<rect x="184.00" y="194.30" width="551.50" height="1.60" fill="#fdfdfb"/>
<line x1="184.00" y1="294.60" x2="735.50" y2="294.60" stroke="#cfcfcf" stroke-width="1.00"/>
<path d="M245.80 196.50A85.08 85.08 0 0 0 369.30 196.50" fill="none" stroke="#2d318a" stroke-width="3.8" clip-path="url(#c1)"/>
<path d="M370.50 196.50A143.08 143.08 0 0 0 578.20 196.50" fill="none" stroke="#2d318a" stroke-width="3.8" clip-path="url(#c1)"/>
<path d="M404.10 196.50A100.85 100.85 0 0 0 550.50 196.50" fill="none" stroke="#2d318a" stroke-width="3.8" clip-path="url(#c1)"/>
<path d="M243.00 297.50A84.26 84.26 0 0 0 368.00 297.50" fill="none" stroke="#bd2530" stroke-width="5.0" clip-path="url(#c1)"/>
<path d="M249.00 297.50A80.21 80.21 0 0 0 368.00 297.50" fill="none" stroke="#bd2530" stroke-width="5.0" clip-path="url(#c1)"/>
<path d="M256.00 297.50A75.50 75.50 0 0 0 368.00 297.50" fill="none" stroke="#bd2530" stroke-width="5.0" clip-path="url(#c1)"/>
<path d="M276.00 297.50A62.01 62.01 0 0 0 368.00 297.50" fill="none" stroke="#bd2530" stroke-width="5.0" clip-path="url(#c1)"/>
<path d="M282.00 297.50A57.97 57.97 0 0 0 368.00 297.50" fill="none" stroke="#bd2530" stroke-width="5.0" clip-path="url(#c1)"/>
<path d="M304.00 297.50A43.14 43.14 0 0 0 368.00 297.50" fill="none" stroke="#bd2530" stroke-width="5.0" clip-path="url(#c1)"/>
<path d="M313.00 297.50A37.07 37.07 0 0 0 368.00 297.50" fill="none" stroke="#bd2530" stroke-width="5.0" clip-path="url(#c1)"/>
<path d="M368.00 297.50A191.16 191.16 0 0 0 648.00 297.50" fill="none" stroke="#bd2530" stroke-width="5.0" clip-path="url(#c1)"/>
<path d="M368.00 297.50A196.94 196.94 0 0 0 653.00 297.50" fill="none" stroke="#bd2530" stroke-width="5.0" clip-path="url(#c1)"/>
<path d="M368.00 297.50A208.49 208.49 0 0 0 677.00 297.50" fill="none" stroke="#bd2530" stroke-width="5.0" clip-path="url(#c1)"/>
<path d="M393.50 297.50A104.14 104.14 0 0 0 548.00 297.50" fill="none" stroke="#bd2530" stroke-width="5.0" clip-path="url(#c1)"/>
<path d="M399.00 297.50A100.44 100.44 0 0 0 548.00 297.50" fill="none" stroke="#bd2530" stroke-width="5.0" clip-path="url(#c1)"/>
<path d="M474.00 297.50A50.55 50.55 0 0 0 549.00 297.50" fill="none" stroke="#bd2530" stroke-width="5.0" clip-path="url(#c1)"/>
<rect x="398.40" y="45.50" width="46.90" height="338.20" fill="rgba(150,150,150,0.45)"/>
<rect x="46.70" y="68.20" width="135.60" height="112.80" fill="#d2eafb"/>
<rect x="45.50" y="195.50" width="136.50" height="188.20" fill="#fcd1f6"/>
<text transform="translate(55.92 115.30) scale(1 1.000)" font-size="29.50" font-weight="normal" font-style="normal" fill="#000" stroke="#000" stroke-width="0.45">H3K27ac</text>
<text transform="translate(54.42 145.30) scale(1 1.000)" font-size="29.50" font-weight="normal" font-style="normal" fill="#000" stroke="#000" stroke-width="0.45">ChIP-seq</text>
<text transform="translate(58.72 295.60) scale(1 1.000)" font-size="29.50" font-weight="normal" font-style="normal" fill="#000" stroke="#000" stroke-width="0.45">H3K27ac</text>
<text transform="translate(75.89 325.00) scale(1 1.000)" font-size="29.50" font-weight="normal" font-style="normal" fill="#000" stroke="#000" stroke-width="0.45">Hi-ChIP</text>
<line x1="739.80" y1="50.90" x2="739.80" y2="119.80" stroke="#000" stroke-width="2.10"/>
<text transform="translate(745.70 66.60) scale(1 1.000)" font-size="25.00" font-weight="normal" font-style="normal" fill="#000" stroke="#000" stroke-width="0.45">5</text>
<text transform="translate(745.52 121.60) scale(1 1.000)" font-size="25.00" font-weight="normal" font-style="normal" fill="#000" stroke="#000" stroke-width="0.45">0</text>
<text transform="translate(784.35 242.60) scale(1 1.000)" font-size="28.80" font-weight="normal" font-style="normal" fill="#000" stroke="#000" stroke-width="0.45">Track Color</text>
<text transform="translate(782.64 268.20) scale(1 1.000)" font-size="28.80" font-weight="normal" font-style="normal" fill="#000" stroke="#000" stroke-width="0.45">Key:</text>
<text transform="translate(783.07 295.60) scale(1 1.000)" font-size="28.80" font-weight="bold" font-style="normal" fill="#1315b3" stroke="#1315b3" stroke-width="0.45">DMSO</text>
<text transform="translate(784.28 321.50) scale(1 1.000)" font-size="28.80" font-weight="bold" font-style="normal" fill="#b8292f" stroke="#b8292f" stroke-width="0.45">Abema</text>
<text transform="translate(197.64 405.40) scale(1 1.000)" font-size="25.00" font-weight="normal" font-style="normal" fill="#000" stroke="#000" stroke-width="0.45">chr3:63,618,904-64,671,752</text>
<polygon points="248.5,449.7 289,435 289,464.8" fill="#000"/>
<rect x="288.00" y="447.50" width="41.70" height="4.50" fill="#000"/>
<text transform="translate(342.41 450.30) scale(1 1.000)" font-size="29.00" font-weight="normal" font-style="italic" fill="#000" stroke="#000" stroke-width="0.45">KRT19</text>
<rect x="182.00" y="468.00" width="526.00" height="158.00" fill="#f8f6f3"/>
<line x1="182.00" y1="462.50" x2="707.60" y2="462.50" stroke="#8d8782" stroke-width="1.30"/>
<line x1="182.00" y1="467.00" x2="707.60" y2="467.00" stroke="#55504c" stroke-width="1.70"/>
<line x1="255.00" y1="481.40" x2="330.30" y2="481.40" stroke="#2d3283" stroke-width="1.80"/>
<rect x="256.05" y="473.65" width="5.10" height="15.50" fill="#2d3283"/>
<rect x="255.05" y="475.90" width="2.10" height="11.00" fill="#2d3283"/>
<rect x="262.25" y="473.65" width="2.80" height="15.50" fill="#2d3283"/>
<rect x="266.05" y="473.65" width="2.90" height="15.50" fill="#2d3283"/>
<rect x="273.55" y="473.65" width="3.30" height="15.50" fill="#2d3283"/>
<rect x="279.95" y="473.65" width="2.60" height="15.50" fill="#2d3283"/>
<polygon points="293.3,481.4 296.5,478.2 296.5,484.6" fill="#2d3283"/>
<rect x="322.05" y="473.65" width="8.30" height="15.50" fill="#2d3283"/>
<rect x="329.35" y="475.90" width="1.70" height="11.00" fill="#2d3283"/>
<rect x="672.15" y="477.40" width="19.50" height="8.20" fill="#2d3283"/>
<line x1="691.50" y1="481.50" x2="707.20" y2="481.50" stroke="#2d3283" stroke-width="1.50"/>
<line x1="707.00" y1="477.00" x2="707.00" y2="486.00" stroke="#2d3283" stroke-width="1.30"/>
<path d="M182.0 556.8L182.0 555.9L184.0 555.9L184.0 554.4L186.0 554.4L186.0 554.5L188.0 554.5L188.0 554.9L190.0 554.9L190.0 555.6L192.0 555.6L192.0 553.9L194.0 553.9L194.0 553.8L196.0 553.8L196.0 554.6L198.0 554.6L198.0 554.5L200.0 554.5L200.0 555.2L202.0 555.2L202.0 555.7L204.0 555.7L204.0 554.5L206.0 554.5L206.0 553.7L208.0 553.7L208.0 554.9L210.0 554.9L210.0 552.7L212.0 552.7L212.0 554.0L214.0 554.0L214.0 553.8L216.0 553.8L216.0 554.2L218.0 554.2L218.0 551.3L220.0 551.3L220.0 551.8L222.0 551.8L222.0 551.1L224.0 551.1L224.0 551.5L226.0 551.5L226.0 552.8L228.0 552.8L228.0 551.6L230.0 551.6L230.0 550.8L232.0 550.8L232.0 551.6L234.0 551.6L234.0 548.9L236.0 548.9L236.0 550.2L238.0 550.2L238.0 550.5L240.0 550.5L240.0 548.8L242.0 548.8L242.0 550.9L244.0 550.9L244.0 548.8L246.0 548.8L246.0 550.3L248.0 550.3L248.0 550.2L250.0 550.2L250.0 550.9L252.0 550.9L252.0 550.1L254.0 550.1L254.0 550.5L256.0 550.5L256.0 550.5L258.0 550.5L258.0 547.8L260.0 547.8L260.0 549.1L262.0 549.1L262.0 547.2L264.0 547.2L264.0 548.4L266.0 548.4L266.0 546.0L268.0 546.0L268.0 546.1L270.0 546.1L270.0 546.4L272.0 546.4L272.0 546.2L274.0 546.2L274.0 546.6L276.0 546.6L276.0 546.1L278.0 546.1L278.0 547.7L280.0 547.7L280.0 546.4L282.0 546.4L282.0 544.1L284.0 544.1L284.0 544.5L286.0 544.5L286.0 540.4L288.0 540.4L288.0 537.6L290.0 537.6L290.0 536.1L292.0 536.1L292.0 538.6L294.0 538.6L294.0 541.7L296.0 541.7L296.0 538.4L298.0 538.4L298.0 529.6L300.0 529.6L300.0 531.8L302.0 531.8L302.0 533.3L304.0 533.3L304.0 533.3L306.0 533.3L306.0 529.6L308.0 529.6L308.0 526.8L310.0 526.8L310.0 526.8L312.0 526.8L312.0 525.5L314.0 525.5L314.0 521.8L316.0 521.8L316.0 517.6L318.0 517.6L318.0 527.8L320.0 527.8L320.0 518.4L322.0 518.4L322.0 509.4L324.0 509.4L324.0 506.3L326.0 506.3L326.0 504.6L328.0 504.6L328.0 507.4L330.0 507.4L330.0 517.3L332.0 517.3L332.0 536.6L334.0 536.6L334.0 541.2L336.0 541.2L336.0 541.5L338.0 541.5L338.0 543.3L340.0 543.3L340.0 545.1L342.0 545.1L342.0 546.4L344.0 546.4L344.0 545.5L346.0 545.5L346.0 546.5L348.0 546.5L348.0 547.0L350.0 547.0L350.0 545.5L352.0 545.5L352.0 544.8L354.0 544.8L354.0 543.5L356.0 543.5L356.0 543.9L358.0 543.9L358.0 546.6L360.0 546.6L360.0 546.2L362.0 546.2L362.0 547.5L364.0 547.5L364.0 548.8L366.0 548.8L366.0 548.1L368.0 548.1L368.0 549.4L370.0 549.4L370.0 550.1L372.0 550.1L372.0 552.3L374.0 552.3L374.0 552.3L376.0 552.3L376.0 555.9L378.0 555.9L378.0 556.2L380.0 556.2L380.0 554.3L382.0 554.3L382.0 554.4L384.0 554.4L384.0 555.4L386.0 555.4L386.0 554.5L388.0 554.5L388.0 556.8L390.0 556.8L390.0 556.3L392.0 556.3L392.0 556.2L394.0 556.2L394.0 555.8L396.0 555.8L396.0 556.5L398.0 556.5L398.0 556.7L400.0 556.7L400.0 556.0L402.0 556.0L402.0 554.4L404.0 554.4L404.0 554.1L406.0 554.1L406.0 554.8L408.0 554.8L408.0 555.5L410.0 555.5L410.0 556.1L412.0 556.1L412.0 554.1L414.0 554.1L414.0 555.3L416.0 555.3L416.0 554.7L418.0 554.7L418.0 556.6L420.0 556.6L420.0 556.1L422.0 556.1L422.0 553.9L424.0 553.9L424.0 553.6L426.0 553.6L426.0 552.9L428.0 552.9L428.0 553.3L430.0 553.3L430.0 553.3L432.0 553.3L432.0 552.5L434.0 552.5L434.0 551.3L436.0 551.3L436.0 552.2L438.0 552.2L438.0 550.5L440.0 550.5L440.0 550.2L442.0 550.2L442.0 547.7L444.0 547.7L444.0 548.8L446.0 548.8L446.0 542.4L448.0 542.4L448.0 537.1L450.0 537.1L450.0 535.2L452.0 535.2L452.0 533.1L454.0 533.1L454.0 533.0L456.0 533.0L456.0 535.4L458.0 535.4L458.0 540.9L460.0 540.9L460.0 540.1L462.0 540.1L462.0 538.0L464.0 538.0L464.0 534.7L466.0 534.7L466.0 538.3L468.0 538.3L468.0 544.2L470.0 544.2L470.0 548.0L472.0 548.0L472.0 549.8L474.0 549.8L474.0 551.5L476.0 551.5L476.0 551.8L478.0 551.8L478.0 552.6L480.0 552.6L480.0 550.1L482.0 550.1L482.0 550.1L484.0 550.1L484.0 551.1L486.0 551.1L486.0 549.5L488.0 549.5L488.0 549.7L490.0 549.7L490.0 548.9L492.0 548.9L492.0 549.3L494.0 549.3L494.0 549.1L496.0 549.1L496.0 548.6L498.0 548.6L498.0 547.7L500.0 547.7L500.0 546.4L502.0 546.4L502.0 547.0L504.0 547.0L504.0 549.4L506.0 549.4L506.0 548.5L508.0 548.5L508.0 549.1L510.0 549.1L510.0 550.3L512.0 550.3L512.0 550.7L514.0 550.7L514.0 552.9L516.0 552.9L516.0 551.8L518.0 551.8L518.0 553.0L520.0 553.0L520.0 551.1L522.0 551.1L522.0 552.9L524.0 552.9L524.0 551.5L526.0 551.5L526.0 553.1L528.0 553.1L528.0 552.1L530.0 552.1L530.0 553.4L532.0 553.4L532.0 554.4L534.0 554.4L534.0 553.7L536.0 553.7L536.0 554.2L538.0 554.2L538.0 552.8L540.0 552.8L540.0 554.8L542.0 554.8L542.0 554.5L544.0 554.5L544.0 554.7L546.0 554.7L546.0 553.8L548.0 553.8L548.0 556.5L550.0 556.5L550.0 555.4L552.0 555.4L552.0 555.8L554.0 555.8L554.0 555.1L556.0 555.1L556.0 554.5L558.0 554.5L558.0 556.3L560.0 556.3L560.0 555.2L562.0 555.2L562.0 555.7L564.0 555.7L564.0 555.6L566.0 555.6L566.0 556.8L568.0 556.8L568.0 554.8L570.0 554.8L570.0 554.4L572.0 554.4L572.0 556.1L574.0 556.1L574.0 556.2L576.0 556.2L576.0 554.2L578.0 554.2L578.0 556.7L580.0 556.7L580.0 556.8L582.0 556.8L582.0 556.8L584.0 556.8L584.0 554.7L586.0 554.7L586.0 554.8L588.0 554.8L588.0 555.6L590.0 555.6L590.0 555.1L592.0 555.1L592.0 556.8L594.0 556.8L594.0 555.0L596.0 555.0L596.0 555.6L598.0 555.6L598.0 555.3L600.0 555.3L600.0 555.7L602.0 555.7L602.0 555.6L604.0 555.6L604.0 556.1L606.0 556.1L606.0 556.6L608.0 556.6L608.0 555.5L610.0 555.5L610.0 556.0L612.0 556.0L612.0 554.7L614.0 554.7L614.0 554.3L616.0 554.3L616.0 554.6L618.0 554.6L618.0 555.3L620.0 555.3L620.0 555.9L622.0 555.9L622.0 555.5L624.0 555.5L624.0 555.2L626.0 555.2L626.0 554.7L628.0 554.7L628.0 553.8L630.0 553.8L630.0 556.2L632.0 556.2L632.0 555.1L634.0 555.1L634.0 555.0L636.0 555.0L636.0 553.4L638.0 553.4L638.0 551.5L640.0 551.5L640.0 550.4L642.0 550.4L642.0 549.5L644.0 549.5L644.0 548.0L646.0 548.0L646.0 547.1L648.0 547.1L648.0 545.4L650.0 545.4L650.0 544.8L652.0 544.8L652.0 542.5L654.0 542.5L654.0 541.4L656.0 541.4L656.0 537.1L658.0 537.1L658.0 536.2L660.0 536.2L660.0 538.5L662.0 538.5L662.0 540.9L664.0 540.9L664.0 541.6L666.0 541.6L666.0 541.8L668.0 541.8L668.0 545.8L670.0 545.8L670.0 548.1L672.0 548.1L672.0 551.1L674.0 551.1L674.0 552.6L676.0 552.6L676.0 555.0L678.0 555.0L678.0 555.6L680.0 555.6L680.0 556.8L682.0 556.8L682.0 556.4L684.0 556.4L684.0 554.6L686.0 554.6L686.0 555.1L688.0 555.1L688.0 555.9L690.0 555.9L690.0 556.8L692.0 556.8L692.0 554.5L694.0 554.5L694.0 555.2L696.0 555.2L696.0 556.6L698.0 556.6L698.0 556.3L700.0 556.3L700.0 555.4L702.0 555.4L702.0 555.3L704.0 555.3L704.0 556.5L706.0 556.5L706.0 554.5L708.0 554.5L708.0 556.8Z" fill="#2d3283"/>
<line x1="182.00" y1="556.30" x2="708.00" y2="556.30" stroke="#2d3283" stroke-width="1.20"/>
<rect x="182.00" y="557.20" width="526.00" height="2.00" fill="#fdfdfd"/>
<path d="M182.0 625.0L182.0 620.4L184.0 620.4L184.0 623.2L186.0 623.2L186.0 623.5L188.0 623.5L188.0 620.1L190.0 620.1L190.0 622.8L192.0 622.8L192.0 623.0L194.0 623.0L194.0 621.1L196.0 621.1L196.0 622.1L198.0 622.1L198.0 620.1L200.0 620.1L200.0 622.3L202.0 622.3L202.0 619.6L204.0 619.6L204.0 621.5L206.0 621.5L206.0 620.3L208.0 620.3L208.0 618.9L210.0 618.9L210.0 619.5L212.0 619.5L212.0 618.4L214.0 618.4L214.0 618.9L216.0 618.9L216.0 620.7L218.0 620.7L218.0 617.2L220.0 617.2L220.0 617.5L222.0 617.5L222.0 613.0L224.0 613.0L224.0 607.9L226.0 607.9L226.0 602.6L228.0 602.6L228.0 600.9L230.0 600.9L230.0 597.1L232.0 597.1L232.0 595.1L234.0 595.1L234.0 591.9L236.0 591.9L236.0 592.2L238.0 592.2L238.0 592.0L240.0 592.0L240.0 592.6L242.0 592.6L242.0 594.0L244.0 594.0L244.0 591.9L246.0 591.9L246.0 594.3L248.0 594.3L248.0 591.5L250.0 591.5L250.0 588.4L252.0 588.4L252.0 586.9L254.0 586.9L254.0 586.4L256.0 586.4L256.0 582.1L258.0 582.1L258.0 580.6L260.0 580.6L260.0 580.3L262.0 580.3L262.0 579.0L264.0 579.0L264.0 581.5L266.0 581.5L266.0 584.5L268.0 584.5L268.0 580.8L270.0 580.8L270.0 581.5L272.0 581.5L272.0 580.8L274.0 580.8L274.0 580.7L276.0 580.7L276.0 580.5L278.0 580.5L278.0 580.3L280.0 580.3L280.0 583.0L282.0 583.0L282.0 583.5L284.0 583.5L284.0 582.5L286.0 582.5L286.0 582.6L288.0 582.6L288.0 580.7L290.0 580.7L290.0 580.1L292.0 580.1L292.0 579.6L294.0 579.6L294.0 580.5L296.0 580.5L296.0 587.7L298.0 587.7L298.0 594.1L300.0 594.1L300.0 580.0L302.0 580.0L302.0 576.3L304.0 576.3L304.0 573.5L306.0 573.5L306.0 571.1L308.0 571.1L308.0 567.4L310.0 567.4L310.0 567.1L312.0 567.1L312.0 568.6L314.0 568.6L314.0 568.9L316.0 568.9L316.0 570.0L318.0 570.0L318.0 567.3L320.0 567.3L320.0 569.7L322.0 569.7L322.0 568.4L324.0 568.4L324.0 569.1L326.0 569.1L326.0 569.2L328.0 569.2L328.0 569.1L330.0 569.1L330.0 579.6L332.0 579.6L332.0 604.9L334.0 604.9L334.0 603.4L336.0 603.4L336.0 600.0L338.0 600.0L338.0 598.0L340.0 598.0L340.0 599.0L342.0 599.0L342.0 596.9L344.0 596.9L344.0 598.7L346.0 598.7L346.0 597.1L348.0 597.1L348.0 595.3L350.0 595.3L350.0 594.7L352.0 594.7L352.0 595.9L354.0 595.9L354.0 594.2L356.0 594.2L356.0 593.5L358.0 593.5L358.0 590.5L360.0 590.5L360.0 594.1L362.0 594.1L362.0 597.6L364.0 597.6L364.0 606.2L366.0 606.2L366.0 611.6L368.0 611.6L368.0 609.9L370.0 609.9L370.0 609.4L372.0 609.4L372.0 609.6L374.0 609.6L374.0 609.8L376.0 609.8L376.0 612.7L378.0 612.7L378.0 616.4L380.0 616.4L380.0 617.8L382.0 617.8L382.0 623.2L384.0 623.2L384.0 623.8L386.0 623.8L386.0 623.9L388.0 623.9L388.0 624.8L390.0 624.8L390.0 625.0L392.0 625.0L392.0 623.3L394.0 623.3L394.0 624.0L396.0 624.0L396.0 624.4L398.0 624.4L398.0 625.0L400.0 625.0L400.0 621.7L402.0 621.7L402.0 623.7L404.0 623.7L404.0 624.3L406.0 624.3L406.0 623.8L408.0 623.8L408.0 623.5L410.0 623.5L410.0 621.3L412.0 621.3L412.0 623.5L414.0 623.5L414.0 623.0L416.0 623.0L416.0 623.4L418.0 623.4L418.0 622.0L420.0 622.0L420.0 622.8L422.0 622.8L422.0 622.1L424.0 622.1L424.0 620.7L426.0 620.7L426.0 619.9L428.0 619.9L428.0 620.0L430.0 620.0L430.0 622.6L432.0 622.6L432.0 621.3L434.0 621.3L434.0 616.3L436.0 616.3L436.0 616.4L438.0 616.4L438.0 613.2L440.0 613.2L440.0 609.5L442.0 609.5L442.0 607.2L444.0 607.2L444.0 602.8L446.0 602.8L446.0 599.6L448.0 599.6L448.0 597.1L450.0 597.1L450.0 594.6L452.0 594.6L452.0 591.3L454.0 591.3L454.0 596.6L456.0 596.6L456.0 604.3L458.0 604.3L458.0 608.6L460.0 608.6L460.0 604.8L462.0 604.8L462.0 596.7L464.0 596.7L464.0 594.0L466.0 594.0L466.0 598.3L468.0 598.3L468.0 599.2L470.0 599.2L470.0 603.0L472.0 603.0L472.0 610.3L474.0 610.3L474.0 612.8L476.0 612.8L476.0 615.1L478.0 615.1L478.0 613.3L480.0 613.3L480.0 616.7L482.0 616.7L482.0 615.3L484.0 615.3L484.0 614.9L486.0 614.9L486.0 615.9L488.0 615.9L488.0 617.0L490.0 617.0L490.0 615.0L492.0 615.0L492.0 615.3L494.0 615.3L494.0 613.6L496.0 613.6L496.0 610.6L498.0 610.6L498.0 609.4L500.0 609.4L500.0 610.7L502.0 610.7L502.0 608.0L504.0 608.0L504.0 606.0L506.0 606.0L506.0 609.4L508.0 609.4L508.0 609.1L510.0 609.1L510.0 610.6L512.0 610.6L512.0 613.0L514.0 613.0L514.0 614.7L516.0 614.7L516.0 614.0L518.0 614.0L518.0 616.2L520.0 616.2L520.0 618.3L522.0 618.3L522.0 617.3L524.0 617.3L524.0 617.0L526.0 617.0L526.0 614.0L528.0 614.0L528.0 614.5L530.0 614.5L530.0 613.8L532.0 613.8L532.0 614.6L534.0 614.6L534.0 615.3L536.0 615.3L536.0 619.2L538.0 619.2L538.0 619.6L540.0 619.6L540.0 619.3L542.0 619.3L542.0 620.9L544.0 620.9L544.0 623.5L546.0 623.5L546.0 623.8L548.0 623.8L548.0 625.0L550.0 625.0L550.0 625.0L552.0 625.0L552.0 625.0L554.0 625.0L554.0 624.9L556.0 624.9L556.0 625.0L558.0 625.0L558.0 624.4L560.0 624.4L560.0 622.9L562.0 622.9L562.0 625.0L564.0 625.0L564.0 624.3L566.0 624.3L566.0 623.3L568.0 623.3L568.0 624.2L570.0 624.2L570.0 624.4L572.0 624.4L572.0 623.6L574.0 623.6L574.0 625.0L576.0 625.0L576.0 623.0L578.0 623.0L578.0 623.9L580.0 623.9L580.0 623.5L582.0 623.5L582.0 623.4L584.0 623.4L584.0 625.0L586.0 625.0L586.0 625.0L588.0 625.0L588.0 625.0L590.0 625.0L590.0 624.5L592.0 624.5L592.0 623.0L594.0 623.0L594.0 623.1L596.0 623.1L596.0 624.8L598.0 624.8L598.0 624.1L600.0 624.1L600.0 623.7L602.0 623.7L602.0 625.0L604.0 625.0L604.0 622.9L606.0 622.9L606.0 623.0L608.0 623.0L608.0 623.7L610.0 623.7L610.0 623.1L612.0 623.1L612.0 623.5L614.0 623.5L614.0 624.0L616.0 624.0L616.0 625.0L618.0 625.0L618.0 625.0L620.0 625.0L620.0 625.0L622.0 625.0L622.0 625.0L624.0 625.0L624.0 623.1L626.0 623.1L626.0 625.0L628.0 625.0L628.0 625.0L630.0 625.0L630.0 625.0L632.0 625.0L632.0 625.0L634.0 625.0L634.0 624.7L636.0 624.7L636.0 623.2L638.0 623.2L638.0 620.8L640.0 620.8L640.0 616.9L642.0 616.9L642.0 614.2L644.0 614.2L644.0 611.5L646.0 611.5L646.0 608.6L648.0 608.6L648.0 609.0L650.0 609.0L650.0 606.9L652.0 606.9L652.0 604.4L654.0 604.4L654.0 601.7L656.0 601.7L656.0 599.2L658.0 599.2L658.0 596.0L660.0 596.0L660.0 593.8L662.0 593.8L662.0 600.5L664.0 600.5L664.0 606.7L666.0 606.7L666.0 605.5L668.0 605.5L668.0 602.8L670.0 602.8L670.0 609.1L672.0 609.1L672.0 616.9L674.0 616.9L674.0 619.5L676.0 619.5L676.0 618.6L678.0 618.6L678.0 621.5L680.0 621.5L680.0 625.0L682.0 625.0L682.0 624.6L684.0 624.6L684.0 623.5L686.0 623.5L686.0 624.5L688.0 624.5L688.0 625.0L690.0 625.0L690.0 625.0L692.0 625.0L692.0 624.9L694.0 624.9L694.0 623.1L696.0 623.1L696.0 624.2L698.0 624.2L698.0 624.6L700.0 624.6L700.0 624.1L702.0 624.1L702.0 625.0L704.0 625.0L704.0 623.9L706.0 623.9L706.0 623.5L708.0 623.5L708.0 625.0Z" fill="#b3272e"/>
<rect x="182.00" y="626.00" width="526.00" height="243.00" fill="#ffffff"/>
<line x1="182.00" y1="742.40" x2="708.00" y2="742.40" stroke="#cfcfcf" stroke-width="1.00"/>
<path d="M283.60 627.80A198.06 198.06 0 0 0 609.30 627.80" fill="none" stroke="#2d318a" stroke-width="3.0" clip-path="url(#c2)"/>
<path d="M283.60 627.80A247.56 247.56 0 0 0 690.70 627.80" fill="none" stroke="#2d318a" stroke-width="3.0" clip-path="url(#c2)"/>
<path d="M45.60 627.80A144.73 144.73 0 0 0 283.60 627.80" fill="none" stroke="#2d318a" stroke-width="3.0" clip-path="url(#c2)"/>
<path d="M-34.40 627.80A193.38 193.38 0 0 0 283.60 627.80" fill="none" stroke="#2d318a" stroke-width="3.0" clip-path="url(#c2)"/>
<path d="M284.70 745.50A147.21 147.21 0 0 0 527.30 745.50" fill="none" stroke="#bd2530" stroke-width="3.0" clip-path="url(#c2)"/>
<path d="M284.70 745.50A196.30 196.30 0 0 0 608.20 745.50" fill="none" stroke="#bd2530" stroke-width="3.0" clip-path="url(#c2)"/>
<path d="M284.70 745.50A246.35 246.35 0 0 0 690.70 745.50" fill="none" stroke="#bd2530" stroke-width="3.0" clip-path="url(#c2)"/>
<path d="M284.7 745.5Q340 803 388.7 857" fill="none" stroke="#bd2530" stroke-width="3" clip-path="url(#c2)"/>
<rect x="307.70" y="471.00" width="38.40" height="397.50" fill="rgba(150,150,150,0.45)"/>
<rect x="48.40" y="490.00" width="131.30" height="134.00" fill="#d2eafb"/>
<rect x="48.40" y="628.40" width="131.30" height="240.30" fill="#fcd1f6"/>
<text transform="translate(59.12 549.80) scale(1 1.000)" font-size="29.50" font-weight="normal" font-style="normal" fill="#000" stroke="#000" stroke-width="0.45">H3K27ac</text>
<text transform="translate(57.62 578.50) scale(1 1.000)" font-size="29.50" font-weight="normal" font-style="normal" fill="#000" stroke="#000" stroke-width="0.45">ChIP-seq</text>
<text transform="translate(59.12 734.20) scale(1 1.000)" font-size="29.50" font-weight="normal" font-style="normal" fill="#000" stroke="#000" stroke-width="0.45">H3K27ac</text>
<text transform="translate(76.79 762.80) scale(1 1.000)" font-size="29.50" font-weight="normal" font-style="normal" fill="#000" stroke="#000" stroke-width="0.45">Hi-ChIP</text>
<line x1="713.00" y1="493.50" x2="713.00" y2="553.40" stroke="#000" stroke-width="2.10"/>
<text transform="translate(717.40 505.00) scale(1 1.000)" font-size="25.00" font-weight="normal" font-style="normal" fill="#000" stroke="#000" stroke-width="0.45">5</text>
<text transform="translate(717.22 558.40) scale(1 1.000)" font-size="25.00" font-weight="normal" font-style="normal" fill="#000" stroke="#000" stroke-width="0.45">0</text>
<text transform="translate(180.14 897.00) scale(1 1.000)" font-size="25.00" font-weight="normal" font-style="normal" fill="#000" stroke="#000" stroke-width="0.45">chr17:39,654,674-39,715,048</text>
<text transform="translate(2.30 981.60) scale(1 1.040)" font-size="42.50" font-weight="bold" font-style="normal" fill="#000" stroke="#000" stroke-width="0.45">b</text>
<path d="M201.15 1235.70L201.15 1190.75L216.85 1190.75L216.85 1235.70" fill="none" stroke="#0b02c6" stroke-width="5.50"/>
<path d="M228.75 1235.70L228.75 1170.24L244.45 1170.24L244.45 1235.70" fill="none" stroke="#c2022a" stroke-width="5.50"/>
<path d="M266.90 1235.70L266.90 1192.66L282.60 1192.66L282.60 1235.70" fill="none" stroke="#0b02c6" stroke-width="5.50"/>
<path d="M294.50 1235.70L294.50 1186.93L310.20 1186.93L310.20 1235.70" fill="none" stroke="#c2022a" stroke-width="5.50"/>
<path d="M332.65 1235.70L332.65 1190.75L348.35 1190.75L348.35 1235.70" fill="none" stroke="#0b02c6" stroke-width="5.50"/>
<path d="M360.25 1235.70L360.25 1185.50L375.95 1185.50L375.95 1235.70" fill="none" stroke="#c2022a" stroke-width="5.50"/>
<path d="M398.40 1235.70L398.40 1190.75L414.10 1190.75L414.10 1235.70" fill="none" stroke="#0b02c6" stroke-width="5.50"/>
<path d="M426.00 1235.70L426.00 1174.06L441.70 1174.06L441.70 1235.70" fill="none" stroke="#c2022a" stroke-width="5.50"/>
<path d="M464.15 1235.70L464.15 1191.70L479.85 1191.70L479.85 1235.70" fill="none" stroke="#0b02c6" stroke-width="5.50"/>
<path d="M491.75 1235.70L491.75 1181.21L507.45 1181.21L507.45 1235.70" fill="none" stroke="#c2022a" stroke-width="5.50"/>
<path d="M529.90 1235.70L529.90 1190.75L545.60 1190.75L545.60 1235.70" fill="none" stroke="#0b02c6" stroke-width="5.50"/>
<path d="M557.50 1235.70L557.50 1176.44L573.20 1176.44L573.20 1235.70" fill="none" stroke="#c2022a" stroke-width="5.50"/>
<path d="M595.65 1235.70L595.65 1191.70L611.35 1191.70L611.35 1235.70" fill="none" stroke="#0b02c6" stroke-width="5.50"/>
<path d="M623.25 1235.70L623.25 1185.03L638.95 1185.03L638.95 1235.70" fill="none" stroke="#c2022a" stroke-width="5.50"/>
<path d="M661.40 1235.70L661.40 1190.75L677.10 1190.75L677.10 1235.70" fill="none" stroke="#0b02c6" stroke-width="5.50"/>
<path d="M689.00 1235.70L689.00 1181.21L704.70 1181.21L704.70 1235.70" fill="none" stroke="#c2022a" stroke-width="5.50"/>
<path d="M727.15 1235.70L727.15 1190.75L742.85 1190.75L742.85 1235.70" fill="none" stroke="#0b02c6" stroke-width="5.50"/>
<path d="M754.75 1235.70L754.75 1072.93L770.45 1072.93L770.45 1235.70" fill="none" stroke="#c2022a" stroke-width="5.50"/>
<line x1="187.50" y1="994.40" x2="187.50" y2="1238.40" stroke="#000" stroke-width="5.40"/>
<line x1="162.10" y1="1235.70" x2="783.70" y2="1235.70" stroke="#000" stroke-width="5.40"/>
<line x1="162.10" y1="1235.70" x2="187.50" y2="1235.70" stroke="#000" stroke-width="5.30"/>
<text transform="translate(138.47 1247.62) scale(1 1.040)" font-size="37.00" font-weight="normal" font-style="normal" fill="#000" stroke="#000" stroke-width="0.45">0</text>
<line x1="162.10" y1="1188.00" x2="187.50" y2="1188.00" stroke="#000" stroke-width="5.30"/>
<text transform="translate(138.83 1199.73) scale(1 1.040)" font-size="37.00" font-weight="normal" font-style="normal" fill="#000" stroke="#000" stroke-width="0.45">1</text>
<line x1="162.10" y1="1140.30" x2="187.50" y2="1140.30" stroke="#000" stroke-width="5.30"/>
<text transform="translate(138.88 1152.22) scale(1 1.040)" font-size="37.00" font-weight="normal" font-style="normal" fill="#000" stroke="#000" stroke-width="0.45">2</text>
<line x1="162.10" y1="1092.60" x2="187.50" y2="1092.60" stroke="#000" stroke-width="5.30"/>
<text transform="translate(138.65 1104.52) scale(1 1.040)" font-size="37.00" font-weight="normal" font-style="normal" fill="#000" stroke="#000" stroke-width="0.45">3</text>
<line x1="162.10" y1="1044.90" x2="187.50" y2="1044.90" stroke="#000" stroke-width="5.30"/>
<text transform="translate(138.11 1056.63) scale(1 1.040)" font-size="37.00" font-weight="normal" font-style="normal" fill="#000" stroke="#000" stroke-width="0.45">4</text>
<line x1="162.10" y1="997.20" x2="187.50" y2="997.20" stroke="#000" stroke-width="5.30"/>
<text transform="translate(138.58 1008.93) scale(1 1.040)" font-size="37.00" font-weight="normal" font-style="normal" fill="#000" stroke="#000" stroke-width="0.45">5</text>
<line x1="222.40" y1="1235.70" x2="222.40" y2="1260.70" stroke="#000" stroke-width="5.50"/>
<line x1="288.15" y1="1235.70" x2="288.15" y2="1260.70" stroke="#000" stroke-width="5.50"/>
<line x1="353.90" y1="1235.70" x2="353.90" y2="1260.70" stroke="#000" stroke-width="5.50"/>
<line x1="419.65" y1="1235.70" x2="419.65" y2="1260.70" stroke="#000" stroke-width="5.50"/>
<line x1="485.40" y1="1235.70" x2="485.40" y2="1260.70" stroke="#000" stroke-width="5.50"/>
<line x1="551.15" y1="1235.70" x2="551.15" y2="1260.70" stroke="#000" stroke-width="5.50"/>
<line x1="616.90" y1="1235.70" x2="616.90" y2="1260.70" stroke="#000" stroke-width="5.50"/>
<line x1="682.65" y1="1235.70" x2="682.65" y2="1260.70" stroke="#000" stroke-width="5.50"/>
<line x1="748.40" y1="1235.70" x2="748.40" y2="1260.70" stroke="#000" stroke-width="5.50"/>
<circle cx="208.9" cy="1177.5" r="5.6" fill="none" stroke="#000" stroke-width="3.1"/>
<circle cx="208.9" cy="1199.1" r="5.6" fill="none" stroke="#000" stroke-width="3.1"/>
<circle cx="236.5" cy="1152.7" r="5.6" fill="none" stroke="#000" stroke-width="3.1"/>
<circle cx="236.5" cy="1181.6" r="5.6" fill="none" stroke="#000" stroke-width="3.1"/>
<circle cx="270.2" cy="1191.4" r="5.6" fill="none" stroke="#000" stroke-width="3.1"/>
<circle cx="280.1" cy="1184.2" r="5.6" fill="none" stroke="#000" stroke-width="3.1"/>
<circle cx="302.5" cy="1176.1" r="5.6" fill="none" stroke="#000" stroke-width="3.1"/>
<circle cx="302.5" cy="1191.4" r="5.6" fill="none" stroke="#000" stroke-width="3.1"/>
<circle cx="340.4" cy="1175.2" r="5.6" fill="none" stroke="#000" stroke-width="3.1"/>
<circle cx="340.4" cy="1200.8" r="5.6" fill="none" stroke="#000" stroke-width="3.1"/>
<circle cx="362.9" cy="1183.2" r="5.6" fill="none" stroke="#000" stroke-width="3.1"/>
<circle cx="373.1" cy="1183.2" r="5.6" fill="none" stroke="#000" stroke-width="3.1"/>
<circle cx="406.2" cy="1179.4" r="5.6" fill="none" stroke="#000" stroke-width="3.1"/>
<circle cx="406.2" cy="1197.0" r="5.6" fill="none" stroke="#000" stroke-width="3.1"/>
<circle cx="428.6" cy="1172.9" r="5.6" fill="none" stroke="#000" stroke-width="3.1"/>
<circle cx="439.2" cy="1169.7" r="5.6" fill="none" stroke="#000" stroke-width="3.1"/>
<circle cx="467.0" cy="1189.3" r="5.6" fill="none" stroke="#000" stroke-width="3.1"/>
<circle cx="477.4" cy="1186.3" r="5.6" fill="none" stroke="#000" stroke-width="3.1"/>
<circle cx="495.0" cy="1179.2" r="5.6" fill="none" stroke="#000" stroke-width="3.1"/>
<circle cx="504.8" cy="1173.5" r="5.6" fill="none" stroke="#000" stroke-width="3.1"/>
<circle cx="531.7" cy="1188.1" r="5.6" fill="none" stroke="#000" stroke-width="3.1"/>
<circle cx="543.0" cy="1188.1" r="5.6" fill="none" stroke="#000" stroke-width="3.1"/>
<circle cx="559.8" cy="1174.3" r="5.6" fill="none" stroke="#000" stroke-width="3.1"/>
<circle cx="570.3" cy="1169.8" r="5.6" fill="none" stroke="#000" stroke-width="3.1"/>
<circle cx="599.1" cy="1191.9" r="5.6" fill="none" stroke="#000" stroke-width="3.1"/>
<circle cx="608.5" cy="1184.4" r="5.6" fill="none" stroke="#000" stroke-width="3.1"/>
<circle cx="626.1" cy="1185.5" r="5.6" fill="none" stroke="#000" stroke-width="3.1"/>
<circle cx="635.4" cy="1176.9" r="5.6" fill="none" stroke="#000" stroke-width="3.1"/>
<circle cx="663.9" cy="1188.5" r="5.6" fill="none" stroke="#000" stroke-width="3.1"/>
<circle cx="674.7" cy="1187.4" r="5.6" fill="none" stroke="#000" stroke-width="3.1"/>
<circle cx="691.6" cy="1179.2" r="5.6" fill="none" stroke="#000" stroke-width="3.1"/>
<circle cx="702.1" cy="1176.2" r="5.6" fill="none" stroke="#000" stroke-width="3.1"/>
<circle cx="734.8" cy="1140.1" r="5.6" fill="none" stroke="#000" stroke-width="3.1"/>
<circle cx="734.8" cy="1235.6" r="5.6" fill="none" stroke="#000" stroke-width="3.1"/>
<circle cx="762.0" cy="1016.2" r="5.6" fill="none" stroke="#000" stroke-width="3.1"/>
<circle cx="762.0" cy="1123.0" r="5.6" fill="none" stroke="#000" stroke-width="3.1"/>
<text transform="translate(89 1122.2) rotate(-90) scale(1 1.04)" font-size="36.7" stroke="#000" stroke-width="0.45" text-anchor="middle">Relative mRNA</text>
<text transform="translate(122.0 1121.9) rotate(-90) scale(1 0.97)" font-size="37.5" stroke="#000" stroke-width="0.45" text-anchor="middle">expression</text>
<text transform="translate(355.89 995.80) scale(1 1.040)" font-size="36.70" font-weight="normal" font-style="normal" fill="#000" stroke="#000" stroke-width="0.45">MCF7 sh</text>
<text transform="translate(504.75 995.80) scale(1 1.040)" font-size="36.70" font-weight="normal" font-style="italic" fill="#000" stroke="#000" stroke-width="0.45">RB1</text>
<text transform="translate(229.4 1288.5) rotate(-45) scale(1 1.04)" font-size="40.5" stroke="#000" stroke-width="0.45" font-style="italic" text-anchor="end">PRICKLE2</text>
<text transform="translate(295.1 1288.5) rotate(-45) scale(1 1.04)" font-size="40.5" stroke="#000" stroke-width="0.45" font-style="italic" text-anchor="end">PARD6B</text>
<text transform="translate(360.9 1288.5) rotate(-45) scale(1 1.04)" font-size="40.5" stroke="#000" stroke-width="0.45" font-style="italic" text-anchor="end">KRT7</text>
<text transform="translate(426.6 1288.5) rotate(-45) scale(1 1.04)" font-size="40.5" stroke="#000" stroke-width="0.45" font-style="italic" text-anchor="end">KRT8</text>
<text transform="translate(492.4 1288.5) rotate(-45) scale(1 1.04)" font-size="40.5" stroke="#000" stroke-width="0.45" font-style="italic" text-anchor="end">KRT18</text>
<text transform="translate(558.1 1288.5) rotate(-45) scale(1 1.04)" font-size="40.5" stroke="#000" stroke-width="0.45" font-style="italic" text-anchor="end">KRT19</text>
<text transform="translate(623.9 1288.5) rotate(-45) scale(1 1.04)" font-size="40.5" stroke="#000" stroke-width="0.45" font-style="italic" text-anchor="end">CDH1</text>
<text transform="translate(689.6 1288.5) rotate(-45) scale(1 1.04)" font-size="40.5" stroke="#000" stroke-width="0.45" font-style="italic" text-anchor="end">F11R</text>
<text transform="translate(755.4 1288.5) rotate(-45) scale(1 1.04)" font-size="40.5" stroke="#000" stroke-width="0.45" font-style="italic" text-anchor="end">CEACAM1</text>
<rect x="182.9" y="1436.2" width="63.8" height="13.5" fill="none" stroke="#0b02c6" stroke-width="5.4"/>
<rect x="392.3" y="1436.2" width="63.8" height="13.5" fill="none" stroke="#c2022a" stroke-width="5.4"/>
<text transform="translate(261.49 1458.00) scale(1 1.040)" font-size="36.70" font-weight="normal" font-style="normal" fill="#000" stroke="#000" stroke-width="0.45">DMSO</text>
<text transform="translate(471.43 1458.00) scale(1 1.040)" font-size="36.70" font-weight="normal" font-style="normal" fill="#000" stroke="#000" stroke-width="0.45">Abema</text>
<text transform="translate(78.62 1526.60) scale(1 1.040)" font-size="43.00" font-weight="bold" font-style="normal" fill="#000" stroke="#000" stroke-width="0.45">c</text>
<text transform="translate(218.31 1549.60) scale(1 1.040)" font-size="40.00" font-weight="normal" font-style="italic" fill="#000" stroke="#000" stroke-width="0.45">MMTV-rtTA/tetO-Her2</text>
<text transform="translate(296.17 1591.00) scale(1 1.040)" font-size="39.50" font-weight="normal" font-style="normal" fill="#000" stroke="#000" stroke-width="0.45">mouse tumor</text>
<line x1="319.20" y1="1803.60" x2="319.20" y2="1826.93" stroke="#0600fc" stroke-width="3.00"/>
<line x1="305.00" y1="1803.60" x2="330.00" y2="1803.60" stroke="#0600fc" stroke-width="3.00"/>
<line x1="376.00" y1="1702.20" x2="376.00" y2="1736.79" stroke="#c40422" stroke-width="3.00"/>
<line x1="365.10" y1="1702.20" x2="386.90" y2="1702.20" stroke="#c40422" stroke-width="3.00"/>
<line x1="470.60" y1="1801.30" x2="470.60" y2="1826.93" stroke="#0600fc" stroke-width="3.00"/>
<line x1="460.20" y1="1801.30" x2="481.10" y2="1801.30" stroke="#0600fc" stroke-width="3.00"/>
<line x1="527.60" y1="1775.60" x2="527.60" y2="1805.19" stroke="#c40422" stroke-width="3.00"/>
<line x1="516.70" y1="1775.60" x2="538.50" y2="1775.60" stroke="#c40422" stroke-width="3.00"/>
<path d="M304.65 1905.00L304.65 1830.28L333.75 1830.28L333.75 1905.00" fill="none" stroke="#0600fc" stroke-width="8.70"/>
<path d="M361.45 1905.00L361.45 1740.14L390.55 1740.14L390.55 1905.00" fill="none" stroke="#c40422" stroke-width="8.70"/>
<path d="M456.10 1905.00L456.10 1830.28L485.20 1830.28L485.20 1905.00" fill="none" stroke="#0600fc" stroke-width="8.70"/>
<path d="M512.55 1905.00L512.55 1808.54L541.65 1808.54L541.65 1905.00" fill="none" stroke="#c40422" stroke-width="8.70"/>
<circle cx="309.3" cy="1809.1" r="8.4" fill="#000"/>
<circle cx="329.5" cy="1818.4" r="8.4" fill="#000"/>
<circle cx="319.3" cy="1851.1" r="8.4" fill="#000"/>
<circle cx="376.0" cy="1702.8" r="8.4" fill="#000"/>
<circle cx="376.0" cy="1732.1" r="8.4" fill="#000"/>
<circle cx="376.0" cy="1769.6" r="8.4" fill="#000"/>
<circle cx="470.8" cy="1797.4" r="8.4" fill="#000"/>
<circle cx="481.1" cy="1831.7" r="8.4" fill="#000"/>
<circle cx="460.8" cy="1848.4" r="8.4" fill="#000"/>
<circle cx="527.6" cy="1770.8" r="8.4" fill="#000"/>
<circle cx="537.2" cy="1813.5" r="8.4" fill="#000"/>
<circle cx="518.0" cy="1827.6" r="8.4" fill="#000"/>
<line x1="281.70" y1="1664.80" x2="281.70" y2="1907.60" stroke="#000" stroke-width="5.40"/>
<line x1="255.80" y1="1905.00" x2="566.10" y2="1905.00" stroke="#000" stroke-width="5.20"/>
<line x1="255.80" y1="1905.00" x2="281.70" y2="1905.00" stroke="#000" stroke-width="5.60"/>
<text transform="translate(229.80 1918.51) scale(1 1.040)" font-size="41.00" font-weight="normal" font-style="normal" fill="#000" stroke="#000" stroke-width="0.45">0</text>
<line x1="255.80" y1="1825.93" x2="281.70" y2="1825.93" stroke="#000" stroke-width="5.60"/>
<text transform="translate(230.20 1839.23) scale(1 1.040)" font-size="41.00" font-weight="normal" font-style="normal" fill="#000" stroke="#000" stroke-width="0.45">1</text>
<line x1="255.80" y1="1746.86" x2="281.70" y2="1746.86" stroke="#000" stroke-width="5.60"/>
<text transform="translate(230.26 1760.37) scale(1 1.040)" font-size="41.00" font-weight="normal" font-style="normal" fill="#000" stroke="#000" stroke-width="0.45">2</text>
<line x1="255.80" y1="1667.79" x2="281.70" y2="1667.79" stroke="#000" stroke-width="5.60"/>
<text transform="translate(230.00 1681.30) scale(1 1.040)" font-size="41.00" font-weight="normal" font-style="normal" fill="#000" stroke="#000" stroke-width="0.45">3</text>
<line x1="347.60" y1="1905.00" x2="347.60" y2="1930.00" stroke="#000" stroke-width="5.40"/>
<line x1="498.70" y1="1905.00" x2="498.70" y2="1930.00" stroke="#000" stroke-width="5.40"/>
<text transform="translate(291.81 1970.30) scale(1 1.040)" font-size="40.50" font-weight="normal" font-style="italic" fill="#000" stroke="#000" stroke-width="0.45">Foxp1</text>
<text transform="translate(440.95 1970.30) scale(1 1.040)" font-size="40.50" font-weight="normal" font-style="italic" fill="#000" stroke="#000" stroke-width="0.45">Runx1</text>
<text transform="translate(151.2 1773.8) rotate(-90) scale(1 1.04)" font-size="40.2" stroke="#000" stroke-width="0.45" text-anchor="middle">Relative mRNA</text>
<text transform="translate(192.6 1775.1) rotate(-90) scale(1 1.04)" font-size="40.5" stroke="#000" stroke-width="0.45" text-anchor="middle">expression</text>
<text transform="translate(273.47 1655.50) scale(1 1.040)" font-size="33.50" font-weight="normal" font-style="italic" fill="#000" stroke="#000" stroke-width="0.45">P</text>
<text transform="translate(295.31 1655.50) scale(1 1.040)" font-size="33.50" font-weight="normal" font-style="normal" fill="#000" stroke="#000" stroke-width="0.45">=0.0166</text>
<line x1="313.60" y1="1669.80" x2="385.50" y2="1669.80" stroke="#000" stroke-width="5.60"/>
<text transform="translate(419.37 1735.10) scale(1 1.040)" font-size="33.50" font-weight="normal" font-style="italic" fill="#000" stroke="#000" stroke-width="0.45">P</text>
<text transform="translate(441.21 1735.10) scale(1 1.040)" font-size="33.50" font-weight="normal" font-style="normal" fill="#000" stroke="#000" stroke-width="0.45">=0.3813</text>
<line x1="459.60" y1="1750.00" x2="530.80" y2="1750.00" stroke="#000" stroke-width="5.60"/>
<rect x="609.3" y="1700.5" width="63.6" height="21.8" fill="none" stroke="#0600fc" stroke-width="8.7"/>
<rect x="609.3" y="1760.3" width="63.6" height="21.8" fill="none" stroke="#c40422" stroke-width="8.7"/>
<text transform="translate(691.47 1725.90) scale(1 1.040)" font-size="40.00" font-weight="normal" font-style="normal" fill="#000" stroke="#000" stroke-width="0.45">Control</text>
<text transform="translate(694.22 1784.80) scale(1 1.040)" font-size="39.50" font-weight="normal" font-style="normal" fill="#000" stroke="#000" stroke-width="0.45">Abema</text>
</svg></body></html>
